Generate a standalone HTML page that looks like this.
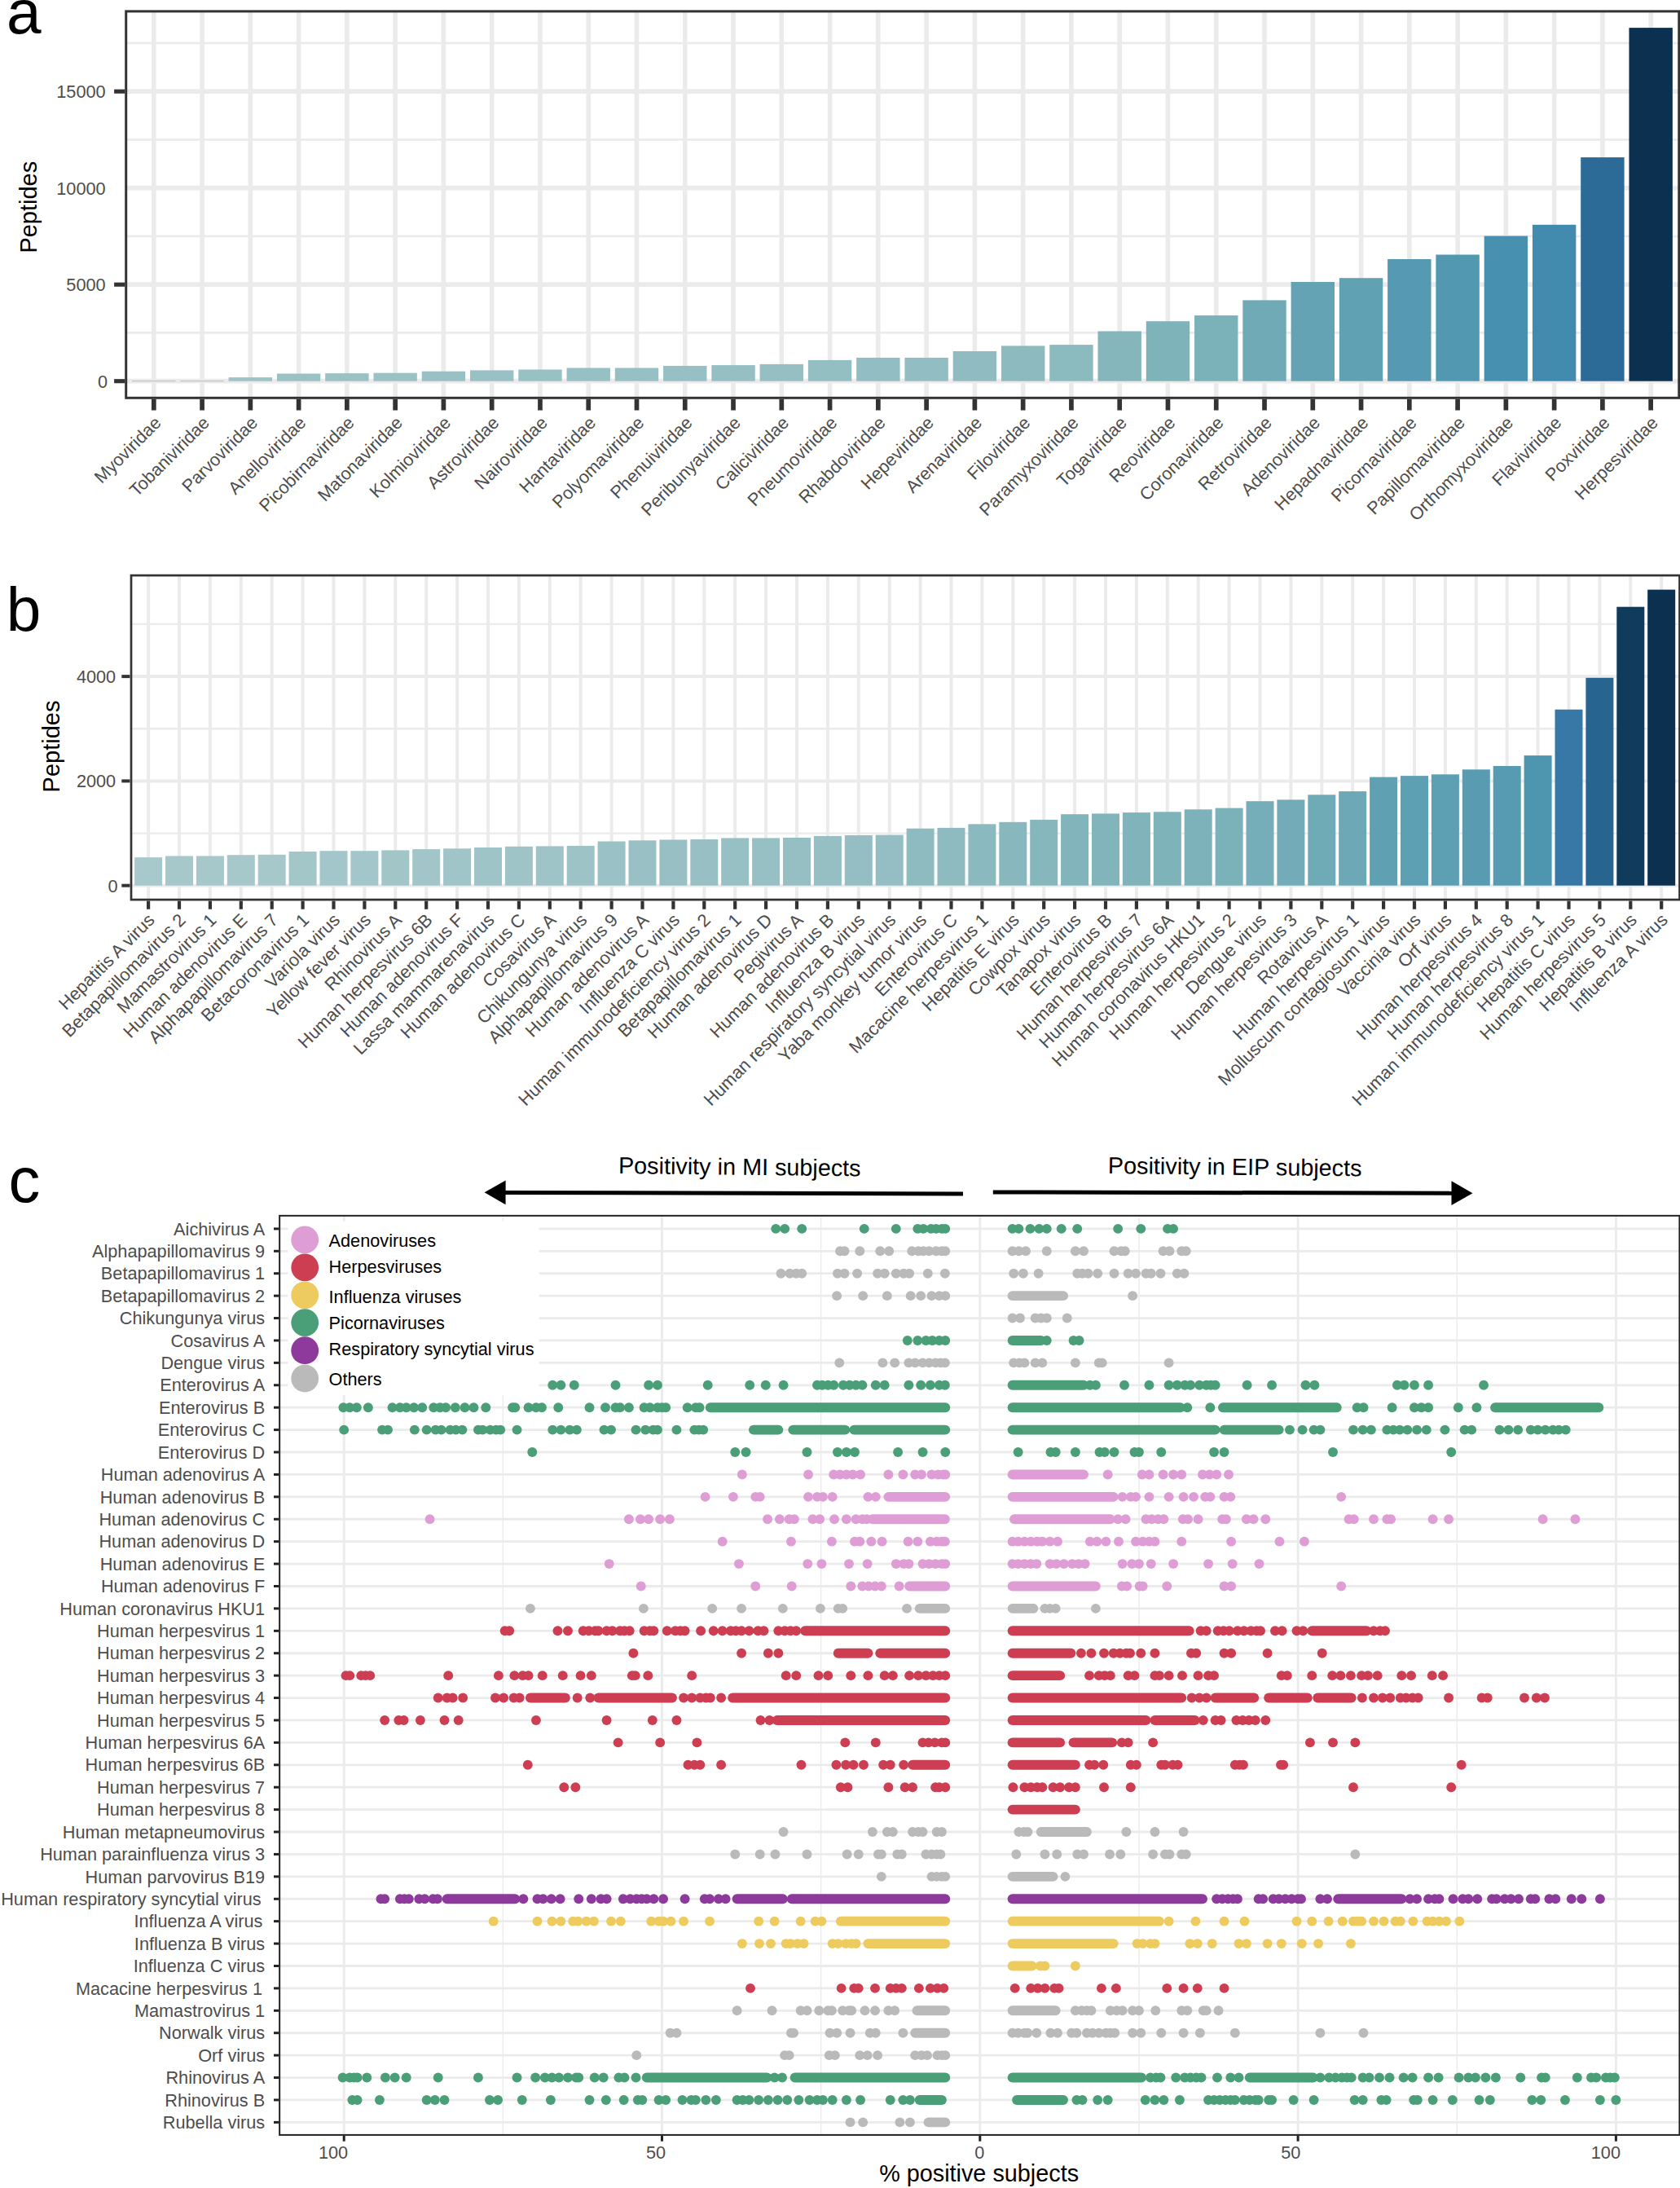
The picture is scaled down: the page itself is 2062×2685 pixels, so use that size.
<!DOCTYPE html>
<html lang="en">
<head>
<meta charset="utf-8">
<title>Figure</title>
<style>
html,body{margin:0;padding:0;background:#fff;}
body{width:2062px;height:2685px;overflow:hidden;}
svg{display:block;font-family:'Liberation Sans', sans-serif;}
</style>
</head>
<body>
<svg width="2062" height="2685" viewBox="0 0 2062 2685">
<rect x="0" y="0" width="2062" height="2685" fill="#ffffff"/>
<g>
<rect x="154.7" y="13.9" width="1906.1" height="474.4" fill="#fff"/>
<line x1="154.7" x2="2060.8" y1="408.45" y2="408.45" stroke="#ebebeb" stroke-width="2.7"/>
<line x1="154.7" x2="2060.8" y1="289.95" y2="289.95" stroke="#ebebeb" stroke-width="2.7"/>
<line x1="154.7" x2="2060.8" y1="171.45" y2="171.45" stroke="#ebebeb" stroke-width="2.7"/>
<line x1="154.7" x2="2060.8" y1="52.95" y2="52.95" stroke="#ebebeb" stroke-width="2.7"/>
<line x1="154.7" x2="2060.8" y1="467.7" y2="467.7" stroke="#ebebeb" stroke-width="5.8"/>
<line x1="154.7" x2="2060.8" y1="349.2" y2="349.2" stroke="#ebebeb" stroke-width="5.8"/>
<line x1="154.7" x2="2060.8" y1="230.7" y2="230.7" stroke="#ebebeb" stroke-width="5.8"/>
<line x1="154.7" x2="2060.8" y1="112.2" y2="112.2" stroke="#ebebeb" stroke-width="5.8"/>
<line x1="188.8" x2="188.8" y1="13.9" y2="488.3" stroke="#ebebeb" stroke-width="5.6"/>
<line x1="248.07" x2="248.07" y1="13.9" y2="488.3" stroke="#ebebeb" stroke-width="5.6"/>
<line x1="307.34" x2="307.34" y1="13.9" y2="488.3" stroke="#ebebeb" stroke-width="5.6"/>
<line x1="366.61" x2="366.61" y1="13.9" y2="488.3" stroke="#ebebeb" stroke-width="5.6"/>
<line x1="425.88" x2="425.88" y1="13.9" y2="488.3" stroke="#ebebeb" stroke-width="5.6"/>
<line x1="485.15" x2="485.15" y1="13.9" y2="488.3" stroke="#ebebeb" stroke-width="5.6"/>
<line x1="544.42" x2="544.42" y1="13.9" y2="488.3" stroke="#ebebeb" stroke-width="5.6"/>
<line x1="603.69" x2="603.69" y1="13.9" y2="488.3" stroke="#ebebeb" stroke-width="5.6"/>
<line x1="662.96" x2="662.96" y1="13.9" y2="488.3" stroke="#ebebeb" stroke-width="5.6"/>
<line x1="722.23" x2="722.23" y1="13.9" y2="488.3" stroke="#ebebeb" stroke-width="5.6"/>
<line x1="781.5" x2="781.5" y1="13.9" y2="488.3" stroke="#ebebeb" stroke-width="5.6"/>
<line x1="840.77" x2="840.77" y1="13.9" y2="488.3" stroke="#ebebeb" stroke-width="5.6"/>
<line x1="900.04" x2="900.04" y1="13.9" y2="488.3" stroke="#ebebeb" stroke-width="5.6"/>
<line x1="959.31" x2="959.31" y1="13.9" y2="488.3" stroke="#ebebeb" stroke-width="5.6"/>
<line x1="1018.58" x2="1018.58" y1="13.9" y2="488.3" stroke="#ebebeb" stroke-width="5.6"/>
<line x1="1077.85" x2="1077.85" y1="13.9" y2="488.3" stroke="#ebebeb" stroke-width="5.6"/>
<line x1="1137.12" x2="1137.12" y1="13.9" y2="488.3" stroke="#ebebeb" stroke-width="5.6"/>
<line x1="1196.39" x2="1196.39" y1="13.9" y2="488.3" stroke="#ebebeb" stroke-width="5.6"/>
<line x1="1255.66" x2="1255.66" y1="13.9" y2="488.3" stroke="#ebebeb" stroke-width="5.6"/>
<line x1="1314.93" x2="1314.93" y1="13.9" y2="488.3" stroke="#ebebeb" stroke-width="5.6"/>
<line x1="1374.2" x2="1374.2" y1="13.9" y2="488.3" stroke="#ebebeb" stroke-width="5.6"/>
<line x1="1433.47" x2="1433.47" y1="13.9" y2="488.3" stroke="#ebebeb" stroke-width="5.6"/>
<line x1="1492.74" x2="1492.74" y1="13.9" y2="488.3" stroke="#ebebeb" stroke-width="5.6"/>
<line x1="1552.01" x2="1552.01" y1="13.9" y2="488.3" stroke="#ebebeb" stroke-width="5.6"/>
<line x1="1611.28" x2="1611.28" y1="13.9" y2="488.3" stroke="#ebebeb" stroke-width="5.6"/>
<line x1="1670.55" x2="1670.55" y1="13.9" y2="488.3" stroke="#ebebeb" stroke-width="5.6"/>
<line x1="1729.82" x2="1729.82" y1="13.9" y2="488.3" stroke="#ebebeb" stroke-width="5.6"/>
<line x1="1789.09" x2="1789.09" y1="13.9" y2="488.3" stroke="#ebebeb" stroke-width="5.6"/>
<line x1="1848.36" x2="1848.36" y1="13.9" y2="488.3" stroke="#ebebeb" stroke-width="5.6"/>
<line x1="1907.63" x2="1907.63" y1="13.9" y2="488.3" stroke="#ebebeb" stroke-width="5.6"/>
<line x1="1966.9" x2="1966.9" y1="13.9" y2="488.3" stroke="#ebebeb" stroke-width="5.6"/>
<line x1="2026.17" x2="2026.17" y1="13.9" y2="488.3" stroke="#ebebeb" stroke-width="5.6"/>
<rect x="162.1" y="467.2" width="53.4" height="0.9" fill="#a9bcbf"/>
<rect x="221.37" y="467.2" width="53.4" height="0.9" fill="#a9bcbf"/>
<rect x="280.64" y="463.1" width="53.4" height="4.6" fill="#9cc3c6"/>
<rect x="339.91" y="458.5" width="53.4" height="9.2" fill="#9ac2c5"/>
<rect x="399.18" y="458.1" width="53.4" height="9.6" fill="#9ac2c5"/>
<rect x="458.45" y="457.7" width="53.4" height="10" fill="#9ac2c5"/>
<rect x="517.72" y="455.7" width="53.4" height="12" fill="#99c1c5"/>
<rect x="576.99" y="454.4" width="53.4" height="13.3" fill="#99c1c5"/>
<rect x="636.26" y="453.5" width="53.4" height="14.2" fill="#98c1c4"/>
<rect x="695.53" y="451.5" width="53.4" height="16.2" fill="#97c0c4"/>
<rect x="754.8" y="451.5" width="53.4" height="16.2" fill="#97c0c4"/>
<rect x="814.07" y="448.95" width="53.4" height="18.75" fill="#96c0c4"/>
<rect x="873.34" y="448.1" width="53.4" height="19.6" fill="#96bfc4"/>
<rect x="932.61" y="446.9" width="53.4" height="20.8" fill="#96bfc3"/>
<rect x="991.88" y="441.9" width="53.4" height="25.8" fill="#93bec2"/>
<rect x="1051.15" y="438.95" width="53.4" height="28.75" fill="#92bdc2"/>
<rect x="1110.42" y="438.95" width="53.4" height="28.75" fill="#92bdc2"/>
<rect x="1169.69" y="431" width="53.4" height="36.7" fill="#8fbbc1"/>
<rect x="1228.96" y="424.4" width="53.4" height="43.3" fill="#8cbabf"/>
<rect x="1288.23" y="423.1" width="53.4" height="44.6" fill="#8bbabf"/>
<rect x="1347.5" y="406.45" width="53.4" height="61.25" fill="#84b6bc"/>
<rect x="1406.77" y="394.2" width="53.4" height="73.5" fill="#7fb3ba"/>
<rect x="1466.04" y="387.1" width="53.4" height="80.6" fill="#7bb1b9"/>
<rect x="1525.31" y="368.4" width="53.4" height="99.3" fill="#70aab7"/>
<rect x="1584.58" y="346" width="53.4" height="121.7" fill="#63a3b4"/>
<rect x="1643.85" y="341.2" width="53.4" height="126.5" fill="#61a1b4"/>
<rect x="1703.12" y="318" width="53.4" height="149.7" fill="#559ab2"/>
<rect x="1762.39" y="312.5" width="53.4" height="155.2" fill="#5298b1"/>
<rect x="1821.66" y="289.6" width="53.4" height="178.1" fill="#4890af"/>
<rect x="1880.93" y="275.8" width="53.4" height="191.9" fill="#428bae"/>
<rect x="1940.2" y="193.1" width="53.4" height="274.6" fill="#2c6a97"/>
<rect x="1999.47" y="34.1" width="53.4" height="433.6" fill="#0b3050"/>
<rect x="154.7" y="13.9" width="1906.1" height="474.4" fill="none" stroke="#333333" stroke-width="3"/>
<line x1="140.1" x2="153.2" y1="467.7" y2="467.7" stroke="#333333" stroke-width="5.1"/>
<text x="132" y="475.7" text-anchor="end" font-size="21.7" fill="#4d4d4d">0</text>
<line x1="140.1" x2="153.2" y1="349.2" y2="349.2" stroke="#333333" stroke-width="5.1"/>
<text x="129.6" y="357.2" text-anchor="end" font-size="21.7" fill="#4d4d4d">5000</text>
<text x="129.6" y="238.7" text-anchor="end" font-size="21.7" fill="#4d4d4d">10000</text>
<line x1="140.1" x2="153.2" y1="112.2" y2="112.2" stroke="#333333" stroke-width="5.1"/>
<text x="129.6" y="120.2" text-anchor="end" font-size="21.7" fill="#4d4d4d">15000</text>
<line x1="188.8" x2="188.8" y1="489.8" y2="503.5" stroke="#333333" stroke-width="5.7"/>
<text transform="translate(199,520.2) rotate(-45)" text-anchor="end" font-size="21.7" fill="#4d4d4d">Myoviridae</text>
<line x1="248.07" x2="248.07" y1="489.8" y2="503.5" stroke="#333333" stroke-width="5.7"/>
<text transform="translate(258.27,520.2) rotate(-45)" text-anchor="end" font-size="21.7" fill="#4d4d4d">Tobaniviridae</text>
<line x1="307.34" x2="307.34" y1="489.8" y2="503.5" stroke="#333333" stroke-width="5.7"/>
<text transform="translate(317.54,520.2) rotate(-45)" text-anchor="end" font-size="21.7" fill="#4d4d4d">Parvoviridae</text>
<line x1="366.61" x2="366.61" y1="489.8" y2="503.5" stroke="#333333" stroke-width="5.7"/>
<text transform="translate(376.81,520.2) rotate(-45)" text-anchor="end" font-size="21.7" fill="#4d4d4d">Anelloviridae</text>
<line x1="425.88" x2="425.88" y1="489.8" y2="503.5" stroke="#333333" stroke-width="5.7"/>
<text transform="translate(436.08,520.2) rotate(-45)" text-anchor="end" font-size="21.7" fill="#4d4d4d">Picobirnaviridae</text>
<line x1="485.15" x2="485.15" y1="489.8" y2="503.5" stroke="#333333" stroke-width="5.7"/>
<text transform="translate(495.35,520.2) rotate(-45)" text-anchor="end" font-size="21.7" fill="#4d4d4d">Matonaviridae</text>
<line x1="544.42" x2="544.42" y1="489.8" y2="503.5" stroke="#333333" stroke-width="5.7"/>
<text transform="translate(554.62,520.2) rotate(-45)" text-anchor="end" font-size="21.7" fill="#4d4d4d">Kolmioviridae</text>
<line x1="603.69" x2="603.69" y1="489.8" y2="503.5" stroke="#333333" stroke-width="5.7"/>
<text transform="translate(613.89,520.2) rotate(-45)" text-anchor="end" font-size="21.7" fill="#4d4d4d">Astroviridae</text>
<line x1="662.96" x2="662.96" y1="489.8" y2="503.5" stroke="#333333" stroke-width="5.7"/>
<text transform="translate(673.16,520.2) rotate(-45)" text-anchor="end" font-size="21.7" fill="#4d4d4d">Nairoviridae</text>
<line x1="722.23" x2="722.23" y1="489.8" y2="503.5" stroke="#333333" stroke-width="5.7"/>
<text transform="translate(732.43,520.2) rotate(-45)" text-anchor="end" font-size="21.7" fill="#4d4d4d">Hantaviridae</text>
<line x1="781.5" x2="781.5" y1="489.8" y2="503.5" stroke="#333333" stroke-width="5.7"/>
<text transform="translate(791.7,520.2) rotate(-45)" text-anchor="end" font-size="21.7" fill="#4d4d4d">Polyomaviridae</text>
<line x1="840.77" x2="840.77" y1="489.8" y2="503.5" stroke="#333333" stroke-width="5.7"/>
<text transform="translate(850.97,520.2) rotate(-45)" text-anchor="end" font-size="21.7" fill="#4d4d4d">Phenuiviridae</text>
<line x1="900.04" x2="900.04" y1="489.8" y2="503.5" stroke="#333333" stroke-width="5.7"/>
<text transform="translate(910.24,520.2) rotate(-45)" text-anchor="end" font-size="21.7" fill="#4d4d4d">Peribunyaviridae</text>
<line x1="959.31" x2="959.31" y1="489.8" y2="503.5" stroke="#333333" stroke-width="5.7"/>
<text transform="translate(969.51,520.2) rotate(-45)" text-anchor="end" font-size="21.7" fill="#4d4d4d">Caliciviridae</text>
<line x1="1018.58" x2="1018.58" y1="489.8" y2="503.5" stroke="#333333" stroke-width="5.7"/>
<text transform="translate(1028.78,520.2) rotate(-45)" text-anchor="end" font-size="21.7" fill="#4d4d4d">Pneumoviridae</text>
<line x1="1077.85" x2="1077.85" y1="489.8" y2="503.5" stroke="#333333" stroke-width="5.7"/>
<text transform="translate(1088.05,520.2) rotate(-45)" text-anchor="end" font-size="21.7" fill="#4d4d4d">Rhabdoviridae</text>
<line x1="1137.12" x2="1137.12" y1="489.8" y2="503.5" stroke="#333333" stroke-width="5.7"/>
<text transform="translate(1147.32,520.2) rotate(-45)" text-anchor="end" font-size="21.7" fill="#4d4d4d">Hepeviridae</text>
<line x1="1196.39" x2="1196.39" y1="489.8" y2="503.5" stroke="#333333" stroke-width="5.7"/>
<text transform="translate(1206.59,520.2) rotate(-45)" text-anchor="end" font-size="21.7" fill="#4d4d4d">Arenaviridae</text>
<line x1="1255.66" x2="1255.66" y1="489.8" y2="503.5" stroke="#333333" stroke-width="5.7"/>
<text transform="translate(1265.86,520.2) rotate(-45)" text-anchor="end" font-size="21.7" fill="#4d4d4d">Filoviridae</text>
<line x1="1314.93" x2="1314.93" y1="489.8" y2="503.5" stroke="#333333" stroke-width="5.7"/>
<text transform="translate(1325.13,520.2) rotate(-45)" text-anchor="end" font-size="21.7" fill="#4d4d4d">Paramyxoviridae</text>
<line x1="1374.2" x2="1374.2" y1="489.8" y2="503.5" stroke="#333333" stroke-width="5.7"/>
<text transform="translate(1384.4,520.2) rotate(-45)" text-anchor="end" font-size="21.7" fill="#4d4d4d">Togaviridae</text>
<line x1="1433.47" x2="1433.47" y1="489.8" y2="503.5" stroke="#333333" stroke-width="5.7"/>
<text transform="translate(1443.67,520.2) rotate(-45)" text-anchor="end" font-size="21.7" fill="#4d4d4d">Reoviridae</text>
<line x1="1492.74" x2="1492.74" y1="489.8" y2="503.5" stroke="#333333" stroke-width="5.7"/>
<text transform="translate(1502.94,520.2) rotate(-45)" text-anchor="end" font-size="21.7" fill="#4d4d4d">Coronaviridae</text>
<line x1="1552.01" x2="1552.01" y1="489.8" y2="503.5" stroke="#333333" stroke-width="5.7"/>
<text transform="translate(1562.21,520.2) rotate(-45)" text-anchor="end" font-size="21.7" fill="#4d4d4d">Retroviridae</text>
<line x1="1611.28" x2="1611.28" y1="489.8" y2="503.5" stroke="#333333" stroke-width="5.7"/>
<text transform="translate(1621.48,520.2) rotate(-45)" text-anchor="end" font-size="21.7" fill="#4d4d4d">Adenoviridae</text>
<line x1="1670.55" x2="1670.55" y1="489.8" y2="503.5" stroke="#333333" stroke-width="5.7"/>
<text transform="translate(1680.75,520.2) rotate(-45)" text-anchor="end" font-size="21.7" fill="#4d4d4d">Hepadnaviridae</text>
<line x1="1729.82" x2="1729.82" y1="489.8" y2="503.5" stroke="#333333" stroke-width="5.7"/>
<text transform="translate(1740.02,520.2) rotate(-45)" text-anchor="end" font-size="21.7" fill="#4d4d4d">Picornaviridae</text>
<line x1="1789.09" x2="1789.09" y1="489.8" y2="503.5" stroke="#333333" stroke-width="5.7"/>
<text transform="translate(1799.29,520.2) rotate(-45)" text-anchor="end" font-size="21.7" fill="#4d4d4d">Papillomaviridae</text>
<line x1="1848.36" x2="1848.36" y1="489.8" y2="503.5" stroke="#333333" stroke-width="5.7"/>
<text transform="translate(1858.56,520.2) rotate(-45)" text-anchor="end" font-size="21.7" fill="#4d4d4d">Orthomyxoviridae</text>
<line x1="1907.63" x2="1907.63" y1="489.8" y2="503.5" stroke="#333333" stroke-width="5.7"/>
<text transform="translate(1917.83,520.2) rotate(-45)" text-anchor="end" font-size="21.7" fill="#4d4d4d">Flaviviridae</text>
<line x1="1966.9" x2="1966.9" y1="489.8" y2="503.5" stroke="#333333" stroke-width="5.7"/>
<text transform="translate(1977.1,520.2) rotate(-45)" text-anchor="end" font-size="21.7" fill="#4d4d4d">Poxviridae</text>
<line x1="2026.17" x2="2026.17" y1="489.8" y2="503.5" stroke="#333333" stroke-width="5.7"/>
<text transform="translate(2036.37,520.2) rotate(-45)" text-anchor="end" font-size="21.7" fill="#4d4d4d">Herpesviridae</text>
</g>
<g>
<rect x="161" y="706.1" width="1900.5" height="397.95" fill="#fff"/>
<line x1="161" x2="2061.5" y1="1022.55" y2="1022.55" stroke="#ebebeb" stroke-width="2.3"/>
<line x1="161" x2="2061.5" y1="894.25" y2="894.25" stroke="#ebebeb" stroke-width="2.3"/>
<line x1="161" x2="2061.5" y1="765.95" y2="765.95" stroke="#ebebeb" stroke-width="2.3"/>
<line x1="161" x2="2061.5" y1="1086.7" y2="1086.7" stroke="#ebebeb" stroke-width="4.0"/>
<line x1="161" x2="2061.5" y1="958.4" y2="958.4" stroke="#ebebeb" stroke-width="4.0"/>
<line x1="161" x2="2061.5" y1="830.1" y2="830.1" stroke="#ebebeb" stroke-width="4.0"/>
<line x1="182.1" x2="182.1" y1="706.1" y2="1104.05" stroke="#ebebeb" stroke-width="4.0"/>
<line x1="220" x2="220" y1="706.1" y2="1104.05" stroke="#ebebeb" stroke-width="4.0"/>
<line x1="257.9" x2="257.9" y1="706.1" y2="1104.05" stroke="#ebebeb" stroke-width="4.0"/>
<line x1="295.8" x2="295.8" y1="706.1" y2="1104.05" stroke="#ebebeb" stroke-width="4.0"/>
<line x1="333.7" x2="333.7" y1="706.1" y2="1104.05" stroke="#ebebeb" stroke-width="4.0"/>
<line x1="371.6" x2="371.6" y1="706.1" y2="1104.05" stroke="#ebebeb" stroke-width="4.0"/>
<line x1="409.5" x2="409.5" y1="706.1" y2="1104.05" stroke="#ebebeb" stroke-width="4.0"/>
<line x1="447.4" x2="447.4" y1="706.1" y2="1104.05" stroke="#ebebeb" stroke-width="4.0"/>
<line x1="485.3" x2="485.3" y1="706.1" y2="1104.05" stroke="#ebebeb" stroke-width="4.0"/>
<line x1="523.2" x2="523.2" y1="706.1" y2="1104.05" stroke="#ebebeb" stroke-width="4.0"/>
<line x1="561.1" x2="561.1" y1="706.1" y2="1104.05" stroke="#ebebeb" stroke-width="4.0"/>
<line x1="599" x2="599" y1="706.1" y2="1104.05" stroke="#ebebeb" stroke-width="4.0"/>
<line x1="636.9" x2="636.9" y1="706.1" y2="1104.05" stroke="#ebebeb" stroke-width="4.0"/>
<line x1="674.8" x2="674.8" y1="706.1" y2="1104.05" stroke="#ebebeb" stroke-width="4.0"/>
<line x1="712.7" x2="712.7" y1="706.1" y2="1104.05" stroke="#ebebeb" stroke-width="4.0"/>
<line x1="750.6" x2="750.6" y1="706.1" y2="1104.05" stroke="#ebebeb" stroke-width="4.0"/>
<line x1="788.5" x2="788.5" y1="706.1" y2="1104.05" stroke="#ebebeb" stroke-width="4.0"/>
<line x1="826.4" x2="826.4" y1="706.1" y2="1104.05" stroke="#ebebeb" stroke-width="4.0"/>
<line x1="864.3" x2="864.3" y1="706.1" y2="1104.05" stroke="#ebebeb" stroke-width="4.0"/>
<line x1="902.2" x2="902.2" y1="706.1" y2="1104.05" stroke="#ebebeb" stroke-width="4.0"/>
<line x1="940.1" x2="940.1" y1="706.1" y2="1104.05" stroke="#ebebeb" stroke-width="4.0"/>
<line x1="978" x2="978" y1="706.1" y2="1104.05" stroke="#ebebeb" stroke-width="4.0"/>
<line x1="1015.9" x2="1015.9" y1="706.1" y2="1104.05" stroke="#ebebeb" stroke-width="4.0"/>
<line x1="1053.8" x2="1053.8" y1="706.1" y2="1104.05" stroke="#ebebeb" stroke-width="4.0"/>
<line x1="1091.7" x2="1091.7" y1="706.1" y2="1104.05" stroke="#ebebeb" stroke-width="4.0"/>
<line x1="1129.6" x2="1129.6" y1="706.1" y2="1104.05" stroke="#ebebeb" stroke-width="4.0"/>
<line x1="1167.5" x2="1167.5" y1="706.1" y2="1104.05" stroke="#ebebeb" stroke-width="4.0"/>
<line x1="1205.4" x2="1205.4" y1="706.1" y2="1104.05" stroke="#ebebeb" stroke-width="4.0"/>
<line x1="1243.3" x2="1243.3" y1="706.1" y2="1104.05" stroke="#ebebeb" stroke-width="4.0"/>
<line x1="1281.2" x2="1281.2" y1="706.1" y2="1104.05" stroke="#ebebeb" stroke-width="4.0"/>
<line x1="1319.1" x2="1319.1" y1="706.1" y2="1104.05" stroke="#ebebeb" stroke-width="4.0"/>
<line x1="1357" x2="1357" y1="706.1" y2="1104.05" stroke="#ebebeb" stroke-width="4.0"/>
<line x1="1394.9" x2="1394.9" y1="706.1" y2="1104.05" stroke="#ebebeb" stroke-width="4.0"/>
<line x1="1432.8" x2="1432.8" y1="706.1" y2="1104.05" stroke="#ebebeb" stroke-width="4.0"/>
<line x1="1470.7" x2="1470.7" y1="706.1" y2="1104.05" stroke="#ebebeb" stroke-width="4.0"/>
<line x1="1508.6" x2="1508.6" y1="706.1" y2="1104.05" stroke="#ebebeb" stroke-width="4.0"/>
<line x1="1546.5" x2="1546.5" y1="706.1" y2="1104.05" stroke="#ebebeb" stroke-width="4.0"/>
<line x1="1584.4" x2="1584.4" y1="706.1" y2="1104.05" stroke="#ebebeb" stroke-width="4.0"/>
<line x1="1622.3" x2="1622.3" y1="706.1" y2="1104.05" stroke="#ebebeb" stroke-width="4.0"/>
<line x1="1660.2" x2="1660.2" y1="706.1" y2="1104.05" stroke="#ebebeb" stroke-width="4.0"/>
<line x1="1698.1" x2="1698.1" y1="706.1" y2="1104.05" stroke="#ebebeb" stroke-width="4.0"/>
<line x1="1736" x2="1736" y1="706.1" y2="1104.05" stroke="#ebebeb" stroke-width="4.0"/>
<line x1="1773.9" x2="1773.9" y1="706.1" y2="1104.05" stroke="#ebebeb" stroke-width="4.0"/>
<line x1="1811.8" x2="1811.8" y1="706.1" y2="1104.05" stroke="#ebebeb" stroke-width="4.0"/>
<line x1="1849.7" x2="1849.7" y1="706.1" y2="1104.05" stroke="#ebebeb" stroke-width="4.0"/>
<line x1="1887.6" x2="1887.6" y1="706.1" y2="1104.05" stroke="#ebebeb" stroke-width="4.0"/>
<line x1="1925.5" x2="1925.5" y1="706.1" y2="1104.05" stroke="#ebebeb" stroke-width="4.0"/>
<line x1="1963.4" x2="1963.4" y1="706.1" y2="1104.05" stroke="#ebebeb" stroke-width="4.0"/>
<line x1="2001.3" x2="2001.3" y1="706.1" y2="1104.05" stroke="#ebebeb" stroke-width="4.0"/>
<line x1="2039.2" x2="2039.2" y1="706.1" y2="1104.05" stroke="#ebebeb" stroke-width="4.0"/>
<rect x="165.1" y="1052.1" width="34" height="34.6" fill="#a8c9cb"/>
<rect x="203" y="1050.45" width="34" height="36.25" fill="#a7c8ca"/>
<rect x="240.9" y="1050.45" width="34" height="36.25" fill="#a7c8ca"/>
<rect x="278.8" y="1049.2" width="34" height="37.5" fill="#a6c8ca"/>
<rect x="316.7" y="1048.8" width="34" height="37.9" fill="#a6c8ca"/>
<rect x="354.6" y="1045" width="34" height="41.7" fill="#a3c6c9"/>
<rect x="392.5" y="1044.2" width="34" height="42.5" fill="#a2c6c9"/>
<rect x="430.4" y="1044.2" width="34" height="42.5" fill="#a2c6c9"/>
<rect x="468.3" y="1043.4" width="34" height="43.3" fill="#a2c6c8"/>
<rect x="506.2" y="1042.1" width="34" height="44.6" fill="#a1c5c8"/>
<rect x="544.1" y="1041.3" width="34" height="45.4" fill="#a0c5c8"/>
<rect x="582" y="1040" width="34" height="46.7" fill="#9fc4c7"/>
<rect x="619.9" y="1038.8" width="34" height="47.9" fill="#9ec4c7"/>
<rect x="657.8" y="1038.4" width="34" height="48.3" fill="#9ec4c7"/>
<rect x="695.7" y="1037.95" width="34" height="48.75" fill="#9ec3c7"/>
<rect x="733.6" y="1032.5" width="34" height="54.2" fill="#9ac1c5"/>
<rect x="771.5" y="1031.3" width="34" height="55.4" fill="#99c1c5"/>
<rect x="809.4" y="1030.45" width="34" height="56.25" fill="#98c0c4"/>
<rect x="847.3" y="1030" width="34" height="56.7" fill="#98c0c4"/>
<rect x="885.2" y="1028.4" width="34" height="58.3" fill="#97c0c4"/>
<rect x="923.1" y="1028.4" width="34" height="58.3" fill="#97c0c4"/>
<rect x="961" y="1027.95" width="34" height="58.75" fill="#96bfc4"/>
<rect x="998.9" y="1025.9" width="34" height="60.8" fill="#95bfc3"/>
<rect x="1036.8" y="1025" width="34" height="61.7" fill="#94bec3"/>
<rect x="1074.7" y="1024.6" width="34" height="62.1" fill="#94bec3"/>
<rect x="1112.6" y="1016.7" width="34" height="70" fill="#8ebbc0"/>
<rect x="1150.5" y="1015.9" width="34" height="70.8" fill="#8dbbc0"/>
<rect x="1188.4" y="1011.3" width="34" height="75.4" fill="#8ab9bf"/>
<rect x="1226.3" y="1008.8" width="34" height="77.9" fill="#88b8be"/>
<rect x="1264.2" y="1005.9" width="34" height="80.8" fill="#86b7bd"/>
<rect x="1302.1" y="999.2" width="34" height="87.5" fill="#81b4bb"/>
<rect x="1340" y="998.4" width="34" height="88.3" fill="#81b4bb"/>
<rect x="1377.9" y="997.1" width="34" height="89.6" fill="#80b3ba"/>
<rect x="1415.8" y="996.3" width="34" height="90.4" fill="#7fb3ba"/>
<rect x="1453.7" y="993.3" width="34" height="93.4" fill="#7db2ba"/>
<rect x="1491.6" y="991.6" width="34" height="95.1" fill="#7bb1b9"/>
<rect x="1529.5" y="983.2" width="34" height="103.5" fill="#75adb8"/>
<rect x="1567.4" y="981.4" width="34" height="105.3" fill="#73acb8"/>
<rect x="1605.3" y="975.3" width="34" height="111.4" fill="#6faab7"/>
<rect x="1643.2" y="971.1" width="34" height="115.6" fill="#6ca8b6"/>
<rect x="1681.1" y="953.6" width="34" height="133.1" fill="#5fa0b3"/>
<rect x="1719" y="952.1" width="34" height="134.6" fill="#5ea0b3"/>
<rect x="1756.9" y="950.3" width="34" height="136.4" fill="#5d9fb3"/>
<rect x="1794.8" y="944.3" width="34" height="142.4" fill="#599cb2"/>
<rect x="1832.7" y="940" width="34" height="146.7" fill="#569bb2"/>
<rect x="1870.6" y="927.1" width="34" height="159.6" fill="#4e95b0"/>
<rect x="1908.5" y="870.7" width="34" height="216" fill="#3878a6"/>
<rect x="1946.4" y="831.8" width="34" height="254.9" fill="#286490"/>
<rect x="1984.3" y="744.7" width="34" height="342" fill="#0f3b5d"/>
<rect x="2022.2" y="723.6" width="34" height="363.1" fill="#0b3050"/>
<rect x="161" y="706.1" width="1900.5" height="397.95" fill="none" stroke="#333333" stroke-width="2.7"/>
<line x1="149.3" x2="159.5" y1="1086.7" y2="1086.7" stroke="#333333" stroke-width="4.0"/>
<text x="144.6" y="1094.7" text-anchor="end" font-size="21.7" fill="#4d4d4d">0</text>
<line x1="149.3" x2="159.5" y1="958.4" y2="958.4" stroke="#333333" stroke-width="4.0"/>
<text x="142.2" y="966.4" text-anchor="end" font-size="21.7" fill="#4d4d4d">2000</text>
<line x1="149.3" x2="159.5" y1="830.1" y2="830.1" stroke="#333333" stroke-width="4.0"/>
<text x="142.2" y="838.1" text-anchor="end" font-size="21.7" fill="#4d4d4d">4000</text>
<line x1="182.1" x2="182.1" y1="1105.55" y2="1115.75" stroke="#333333" stroke-width="4.2"/>
<text transform="translate(191.1,1130.35) rotate(-45)" text-anchor="end" font-size="21.9" fill="#4d4d4d">Hepatitis A virus</text>
<line x1="220" x2="220" y1="1105.55" y2="1115.75" stroke="#333333" stroke-width="4.2"/>
<text transform="translate(229,1130.35) rotate(-45)" text-anchor="end" font-size="21.9" fill="#4d4d4d">Betapapillomavirus 2</text>
<line x1="257.9" x2="257.9" y1="1105.55" y2="1115.75" stroke="#333333" stroke-width="4.2"/>
<text transform="translate(266.9,1130.35) rotate(-45)" text-anchor="end" font-size="21.9" fill="#4d4d4d">Mamastrovirus 1</text>
<line x1="295.8" x2="295.8" y1="1105.55" y2="1115.75" stroke="#333333" stroke-width="4.2"/>
<text transform="translate(304.8,1130.35) rotate(-45)" text-anchor="end" font-size="21.9" fill="#4d4d4d">Human adenovirus E</text>
<line x1="333.7" x2="333.7" y1="1105.55" y2="1115.75" stroke="#333333" stroke-width="4.2"/>
<text transform="translate(342.7,1130.35) rotate(-45)" text-anchor="end" font-size="21.9" fill="#4d4d4d">Alphapapillomavirus 7</text>
<line x1="371.6" x2="371.6" y1="1105.55" y2="1115.75" stroke="#333333" stroke-width="4.2"/>
<text transform="translate(380.6,1130.35) rotate(-45)" text-anchor="end" font-size="21.9" fill="#4d4d4d">Betacoronavirus 1</text>
<line x1="409.5" x2="409.5" y1="1105.55" y2="1115.75" stroke="#333333" stroke-width="4.2"/>
<text transform="translate(418.5,1130.35) rotate(-45)" text-anchor="end" font-size="21.9" fill="#4d4d4d">Variola virus</text>
<line x1="447.4" x2="447.4" y1="1105.55" y2="1115.75" stroke="#333333" stroke-width="4.2"/>
<text transform="translate(456.4,1130.35) rotate(-45)" text-anchor="end" font-size="21.9" fill="#4d4d4d">Yellow fever virus</text>
<line x1="485.3" x2="485.3" y1="1105.55" y2="1115.75" stroke="#333333" stroke-width="4.2"/>
<text transform="translate(494.3,1130.35) rotate(-45)" text-anchor="end" font-size="21.9" fill="#4d4d4d">Rhinovirus A</text>
<line x1="523.2" x2="523.2" y1="1105.55" y2="1115.75" stroke="#333333" stroke-width="4.2"/>
<text transform="translate(532.2,1130.35) rotate(-45)" text-anchor="end" font-size="21.9" fill="#4d4d4d">Human herpesvirus 6B</text>
<line x1="561.1" x2="561.1" y1="1105.55" y2="1115.75" stroke="#333333" stroke-width="4.2"/>
<text transform="translate(570.1,1130.35) rotate(-45)" text-anchor="end" font-size="21.9" fill="#4d4d4d">Human adenovirus F</text>
<line x1="599" x2="599" y1="1105.55" y2="1115.75" stroke="#333333" stroke-width="4.2"/>
<text transform="translate(608,1130.35) rotate(-45)" text-anchor="end" font-size="21.9" fill="#4d4d4d">Lassa mammarenavirus</text>
<line x1="636.9" x2="636.9" y1="1105.55" y2="1115.75" stroke="#333333" stroke-width="4.2"/>
<text transform="translate(645.9,1130.35) rotate(-45)" text-anchor="end" font-size="21.9" fill="#4d4d4d">Human adenovirus C</text>
<line x1="674.8" x2="674.8" y1="1105.55" y2="1115.75" stroke="#333333" stroke-width="4.2"/>
<text transform="translate(683.8,1130.35) rotate(-45)" text-anchor="end" font-size="21.9" fill="#4d4d4d">Cosavirus A</text>
<line x1="712.7" x2="712.7" y1="1105.55" y2="1115.75" stroke="#333333" stroke-width="4.2"/>
<text transform="translate(721.7,1130.35) rotate(-45)" text-anchor="end" font-size="21.9" fill="#4d4d4d">Chikungunya virus</text>
<line x1="750.6" x2="750.6" y1="1105.55" y2="1115.75" stroke="#333333" stroke-width="4.2"/>
<text transform="translate(759.6,1130.35) rotate(-45)" text-anchor="end" font-size="21.9" fill="#4d4d4d">Alphapapillomavirus 9</text>
<line x1="788.5" x2="788.5" y1="1105.55" y2="1115.75" stroke="#333333" stroke-width="4.2"/>
<text transform="translate(797.5,1130.35) rotate(-45)" text-anchor="end" font-size="21.9" fill="#4d4d4d">Human adenovirus A</text>
<line x1="826.4" x2="826.4" y1="1105.55" y2="1115.75" stroke="#333333" stroke-width="4.2"/>
<text transform="translate(835.4,1130.35) rotate(-45)" text-anchor="end" font-size="21.9" fill="#4d4d4d">Influenza C virus</text>
<line x1="864.3" x2="864.3" y1="1105.55" y2="1115.75" stroke="#333333" stroke-width="4.2"/>
<text transform="translate(873.3,1130.35) rotate(-45)" text-anchor="end" font-size="21.9" fill="#4d4d4d">Human immunodeficiency virus 2</text>
<line x1="902.2" x2="902.2" y1="1105.55" y2="1115.75" stroke="#333333" stroke-width="4.2"/>
<text transform="translate(911.2,1130.35) rotate(-45)" text-anchor="end" font-size="21.9" fill="#4d4d4d">Betapapillomavirus 1</text>
<line x1="940.1" x2="940.1" y1="1105.55" y2="1115.75" stroke="#333333" stroke-width="4.2"/>
<text transform="translate(949.1,1130.35) rotate(-45)" text-anchor="end" font-size="21.9" fill="#4d4d4d">Human adenovirus D</text>
<line x1="978" x2="978" y1="1105.55" y2="1115.75" stroke="#333333" stroke-width="4.2"/>
<text transform="translate(987,1130.35) rotate(-45)" text-anchor="end" font-size="21.9" fill="#4d4d4d">Pegivirus A</text>
<line x1="1015.9" x2="1015.9" y1="1105.55" y2="1115.75" stroke="#333333" stroke-width="4.2"/>
<text transform="translate(1024.9,1130.35) rotate(-45)" text-anchor="end" font-size="21.9" fill="#4d4d4d">Human adenovirus B</text>
<line x1="1053.8" x2="1053.8" y1="1105.55" y2="1115.75" stroke="#333333" stroke-width="4.2"/>
<text transform="translate(1062.8,1130.35) rotate(-45)" text-anchor="end" font-size="21.9" fill="#4d4d4d">Influenza B virus</text>
<line x1="1091.7" x2="1091.7" y1="1105.55" y2="1115.75" stroke="#333333" stroke-width="4.2"/>
<text transform="translate(1100.7,1130.35) rotate(-45)" text-anchor="end" font-size="21.9" fill="#4d4d4d">Human respiratory syncytial virus</text>
<line x1="1129.6" x2="1129.6" y1="1105.55" y2="1115.75" stroke="#333333" stroke-width="4.2"/>
<text transform="translate(1138.6,1130.35) rotate(-45)" text-anchor="end" font-size="21.9" fill="#4d4d4d">Yaba monkey tumor virus</text>
<line x1="1167.5" x2="1167.5" y1="1105.55" y2="1115.75" stroke="#333333" stroke-width="4.2"/>
<text transform="translate(1176.5,1130.35) rotate(-45)" text-anchor="end" font-size="21.9" fill="#4d4d4d">Enterovirus C</text>
<line x1="1205.4" x2="1205.4" y1="1105.55" y2="1115.75" stroke="#333333" stroke-width="4.2"/>
<text transform="translate(1214.4,1130.35) rotate(-45)" text-anchor="end" font-size="21.9" fill="#4d4d4d">Macacine herpesvirus 1</text>
<line x1="1243.3" x2="1243.3" y1="1105.55" y2="1115.75" stroke="#333333" stroke-width="4.2"/>
<text transform="translate(1252.3,1130.35) rotate(-45)" text-anchor="end" font-size="21.9" fill="#4d4d4d">Hepatitis E virus</text>
<line x1="1281.2" x2="1281.2" y1="1105.55" y2="1115.75" stroke="#333333" stroke-width="4.2"/>
<text transform="translate(1290.2,1130.35) rotate(-45)" text-anchor="end" font-size="21.9" fill="#4d4d4d">Cowpox virus</text>
<line x1="1319.1" x2="1319.1" y1="1105.55" y2="1115.75" stroke="#333333" stroke-width="4.2"/>
<text transform="translate(1328.1,1130.35) rotate(-45)" text-anchor="end" font-size="21.9" fill="#4d4d4d">Tanapox virus</text>
<line x1="1357" x2="1357" y1="1105.55" y2="1115.75" stroke="#333333" stroke-width="4.2"/>
<text transform="translate(1366,1130.35) rotate(-45)" text-anchor="end" font-size="21.9" fill="#4d4d4d">Enterovirus B</text>
<line x1="1394.9" x2="1394.9" y1="1105.55" y2="1115.75" stroke="#333333" stroke-width="4.2"/>
<text transform="translate(1403.9,1130.35) rotate(-45)" text-anchor="end" font-size="21.9" fill="#4d4d4d">Human herpesvirus 7</text>
<line x1="1432.8" x2="1432.8" y1="1105.55" y2="1115.75" stroke="#333333" stroke-width="4.2"/>
<text transform="translate(1441.8,1130.35) rotate(-45)" text-anchor="end" font-size="21.9" fill="#4d4d4d">Human herpesvirus 6A</text>
<line x1="1470.7" x2="1470.7" y1="1105.55" y2="1115.75" stroke="#333333" stroke-width="4.2"/>
<text transform="translate(1479.7,1130.35) rotate(-45)" text-anchor="end" font-size="21.9" fill="#4d4d4d">Human coronavirus HKU1</text>
<line x1="1508.6" x2="1508.6" y1="1105.55" y2="1115.75" stroke="#333333" stroke-width="4.2"/>
<text transform="translate(1517.6,1130.35) rotate(-45)" text-anchor="end" font-size="21.9" fill="#4d4d4d">Human herpesvirus 2</text>
<line x1="1546.5" x2="1546.5" y1="1105.55" y2="1115.75" stroke="#333333" stroke-width="4.2"/>
<text transform="translate(1555.5,1130.35) rotate(-45)" text-anchor="end" font-size="21.9" fill="#4d4d4d">Dengue virus</text>
<line x1="1584.4" x2="1584.4" y1="1105.55" y2="1115.75" stroke="#333333" stroke-width="4.2"/>
<text transform="translate(1593.4,1130.35) rotate(-45)" text-anchor="end" font-size="21.9" fill="#4d4d4d">Human herpesvirus 3</text>
<line x1="1622.3" x2="1622.3" y1="1105.55" y2="1115.75" stroke="#333333" stroke-width="4.2"/>
<text transform="translate(1631.3,1130.35) rotate(-45)" text-anchor="end" font-size="21.9" fill="#4d4d4d">Rotavirus A</text>
<line x1="1660.2" x2="1660.2" y1="1105.55" y2="1115.75" stroke="#333333" stroke-width="4.2"/>
<text transform="translate(1669.2,1130.35) rotate(-45)" text-anchor="end" font-size="21.9" fill="#4d4d4d">Human herpesvirus 1</text>
<line x1="1698.1" x2="1698.1" y1="1105.55" y2="1115.75" stroke="#333333" stroke-width="4.2"/>
<text transform="translate(1707.1,1130.35) rotate(-45)" text-anchor="end" font-size="21.9" fill="#4d4d4d">Molluscum contagiosum virus</text>
<line x1="1736" x2="1736" y1="1105.55" y2="1115.75" stroke="#333333" stroke-width="4.2"/>
<text transform="translate(1745,1130.35) rotate(-45)" text-anchor="end" font-size="21.9" fill="#4d4d4d">Vaccinia virus</text>
<line x1="1773.9" x2="1773.9" y1="1105.55" y2="1115.75" stroke="#333333" stroke-width="4.2"/>
<text transform="translate(1782.9,1130.35) rotate(-45)" text-anchor="end" font-size="21.9" fill="#4d4d4d">Orf virus</text>
<line x1="1811.8" x2="1811.8" y1="1105.55" y2="1115.75" stroke="#333333" stroke-width="4.2"/>
<text transform="translate(1820.8,1130.35) rotate(-45)" text-anchor="end" font-size="21.9" fill="#4d4d4d">Human herpesvirus 4</text>
<line x1="1849.7" x2="1849.7" y1="1105.55" y2="1115.75" stroke="#333333" stroke-width="4.2"/>
<text transform="translate(1858.7,1130.35) rotate(-45)" text-anchor="end" font-size="21.9" fill="#4d4d4d">Human herpesvirus 8</text>
<line x1="1887.6" x2="1887.6" y1="1105.55" y2="1115.75" stroke="#333333" stroke-width="4.2"/>
<text transform="translate(1896.6,1130.35) rotate(-45)" text-anchor="end" font-size="21.9" fill="#4d4d4d">Human immunodeficiency virus 1</text>
<line x1="1925.5" x2="1925.5" y1="1105.55" y2="1115.75" stroke="#333333" stroke-width="4.2"/>
<text transform="translate(1934.5,1130.35) rotate(-45)" text-anchor="end" font-size="21.9" fill="#4d4d4d">Hepatitis C virus</text>
<line x1="1963.4" x2="1963.4" y1="1105.55" y2="1115.75" stroke="#333333" stroke-width="4.2"/>
<text transform="translate(1972.4,1130.35) rotate(-45)" text-anchor="end" font-size="21.9" fill="#4d4d4d">Human herpesvirus 5</text>
<line x1="2001.3" x2="2001.3" y1="1105.55" y2="1115.75" stroke="#333333" stroke-width="4.2"/>
<text transform="translate(2010.3,1130.35) rotate(-45)" text-anchor="end" font-size="21.9" fill="#4d4d4d">Hepatitis B virus</text>
<line x1="2039.2" x2="2039.2" y1="1105.55" y2="1115.75" stroke="#333333" stroke-width="4.2"/>
<text transform="translate(2048.2,1130.35) rotate(-45)" text-anchor="end" font-size="21.9" fill="#4d4d4d">Influenza A virus</text>
</g>
<text x="8" y="40.8" font-size="76.5" fill="#000">a</text>
<text x="7.7" y="773.7" font-size="76.5" fill="#000">b</text>
<text x="10.5" y="1474.6" font-size="77.5" fill="#000">c</text>
<text transform="translate(45,254.2) rotate(-90)" text-anchor="middle" font-size="29" fill="#000">Peptides</text>
<text transform="translate(72.9,916) rotate(-90)" text-anchor="middle" font-size="29" fill="#000">Peptides</text>
<g>
<rect x="343.15" y="1491.85" width="1718.25" height="1128.05" fill="#fff"/>
<line x1="617.35" x2="617.35" y1="1491.85" y2="2619.9" stroke="#ebebeb" stroke-width="1.4"/>
<line x1="1007.65" x2="1007.65" y1="1491.85" y2="2619.9" stroke="#ebebeb" stroke-width="1.4"/>
<line x1="1397.95" x2="1397.95" y1="1491.85" y2="2619.9" stroke="#ebebeb" stroke-width="1.4"/>
<line x1="1788.25" x2="1788.25" y1="1491.85" y2="2619.9" stroke="#ebebeb" stroke-width="1.4"/>
<line x1="422.2" x2="422.2" y1="1491.85" y2="2619.9" stroke="#ebebeb" stroke-width="2.9"/>
<line x1="812.5" x2="812.5" y1="1491.85" y2="2619.9" stroke="#ebebeb" stroke-width="2.9"/>
<line x1="1202.8" x2="1202.8" y1="1491.85" y2="2619.9" stroke="#ebebeb" stroke-width="2.9"/>
<line x1="1593.1" x2="1593.1" y1="1491.85" y2="2619.9" stroke="#ebebeb" stroke-width="2.9"/>
<line x1="1983.4" x2="1983.4" y1="1491.85" y2="2619.9" stroke="#ebebeb" stroke-width="2.9"/>
<line x1="343.15" x2="2061.4" y1="1507.9" y2="1507.9" stroke="#ebebeb" stroke-width="2.8"/>
<line x1="343.15" x2="2061.4" y1="1535.31" y2="1535.31" stroke="#ebebeb" stroke-width="2.8"/>
<line x1="343.15" x2="2061.4" y1="1562.72" y2="1562.72" stroke="#ebebeb" stroke-width="2.8"/>
<line x1="343.15" x2="2061.4" y1="1590.14" y2="1590.14" stroke="#ebebeb" stroke-width="2.8"/>
<line x1="343.15" x2="2061.4" y1="1617.55" y2="1617.55" stroke="#ebebeb" stroke-width="2.8"/>
<line x1="343.15" x2="2061.4" y1="1644.96" y2="1644.96" stroke="#ebebeb" stroke-width="2.8"/>
<line x1="343.15" x2="2061.4" y1="1672.37" y2="1672.37" stroke="#ebebeb" stroke-width="2.8"/>
<line x1="343.15" x2="2061.4" y1="1699.78" y2="1699.78" stroke="#ebebeb" stroke-width="2.8"/>
<line x1="343.15" x2="2061.4" y1="1727.2" y2="1727.2" stroke="#ebebeb" stroke-width="2.8"/>
<line x1="343.15" x2="2061.4" y1="1754.61" y2="1754.61" stroke="#ebebeb" stroke-width="2.8"/>
<line x1="343.15" x2="2061.4" y1="1782.02" y2="1782.02" stroke="#ebebeb" stroke-width="2.8"/>
<line x1="343.15" x2="2061.4" y1="1809.43" y2="1809.43" stroke="#ebebeb" stroke-width="2.8"/>
<line x1="343.15" x2="2061.4" y1="1836.84" y2="1836.84" stroke="#ebebeb" stroke-width="2.8"/>
<line x1="343.15" x2="2061.4" y1="1864.26" y2="1864.26" stroke="#ebebeb" stroke-width="2.8"/>
<line x1="343.15" x2="2061.4" y1="1891.67" y2="1891.67" stroke="#ebebeb" stroke-width="2.8"/>
<line x1="343.15" x2="2061.4" y1="1919.08" y2="1919.08" stroke="#ebebeb" stroke-width="2.8"/>
<line x1="343.15" x2="2061.4" y1="1946.49" y2="1946.49" stroke="#ebebeb" stroke-width="2.8"/>
<line x1="343.15" x2="2061.4" y1="1973.9" y2="1973.9" stroke="#ebebeb" stroke-width="2.8"/>
<line x1="343.15" x2="2061.4" y1="2001.32" y2="2001.32" stroke="#ebebeb" stroke-width="2.8"/>
<line x1="343.15" x2="2061.4" y1="2028.73" y2="2028.73" stroke="#ebebeb" stroke-width="2.8"/>
<line x1="343.15" x2="2061.4" y1="2056.14" y2="2056.14" stroke="#ebebeb" stroke-width="2.8"/>
<line x1="343.15" x2="2061.4" y1="2083.55" y2="2083.55" stroke="#ebebeb" stroke-width="2.8"/>
<line x1="343.15" x2="2061.4" y1="2110.96" y2="2110.96" stroke="#ebebeb" stroke-width="2.8"/>
<line x1="343.15" x2="2061.4" y1="2138.38" y2="2138.38" stroke="#ebebeb" stroke-width="2.8"/>
<line x1="343.15" x2="2061.4" y1="2165.79" y2="2165.79" stroke="#ebebeb" stroke-width="2.8"/>
<line x1="343.15" x2="2061.4" y1="2193.2" y2="2193.2" stroke="#ebebeb" stroke-width="2.8"/>
<line x1="343.15" x2="2061.4" y1="2220.61" y2="2220.61" stroke="#ebebeb" stroke-width="2.8"/>
<line x1="343.15" x2="2061.4" y1="2248.02" y2="2248.02" stroke="#ebebeb" stroke-width="2.8"/>
<line x1="343.15" x2="2061.4" y1="2275.44" y2="2275.44" stroke="#ebebeb" stroke-width="2.8"/>
<line x1="343.15" x2="2061.4" y1="2302.85" y2="2302.85" stroke="#ebebeb" stroke-width="2.8"/>
<line x1="343.15" x2="2061.4" y1="2330.26" y2="2330.26" stroke="#ebebeb" stroke-width="2.8"/>
<line x1="343.15" x2="2061.4" y1="2357.67" y2="2357.67" stroke="#ebebeb" stroke-width="2.8"/>
<line x1="343.15" x2="2061.4" y1="2385.08" y2="2385.08" stroke="#ebebeb" stroke-width="2.8"/>
<line x1="343.15" x2="2061.4" y1="2412.5" y2="2412.5" stroke="#ebebeb" stroke-width="2.8"/>
<line x1="343.15" x2="2061.4" y1="2439.91" y2="2439.91" stroke="#ebebeb" stroke-width="2.8"/>
<line x1="343.15" x2="2061.4" y1="2467.32" y2="2467.32" stroke="#ebebeb" stroke-width="2.8"/>
<line x1="343.15" x2="2061.4" y1="2494.73" y2="2494.73" stroke="#ebebeb" stroke-width="2.8"/>
<line x1="343.15" x2="2061.4" y1="2522.14" y2="2522.14" stroke="#ebebeb" stroke-width="2.8"/>
<line x1="343.15" x2="2061.4" y1="2549.56" y2="2549.56" stroke="#ebebeb" stroke-width="2.8"/>
<line x1="343.15" x2="2061.4" y1="2576.97" y2="2576.97" stroke="#ebebeb" stroke-width="2.8"/>
<line x1="343.15" x2="2061.4" y1="2604.38" y2="2604.38" stroke="#ebebeb" stroke-width="2.8"/>
<g fill="#4a9e78" stroke="#4a9e78" stroke-width="11.9" stroke-linecap="round">
<circle cx="952.23" cy="1507.9" r="5.95" stroke="none"/>
<circle cx="963.16" cy="1507.9" r="5.95" stroke="none"/>
<circle cx="984.23" cy="1507.9" r="5.95" stroke="none"/>
<circle cx="1060.73" cy="1507.9" r="5.95" stroke="none"/>
<circle cx="1099.76" cy="1507.9" r="5.95" stroke="none"/>
<circle cx="1126.3" cy="1507.9" r="5.95" stroke="none"/>
<circle cx="1133.33" cy="1507.9" r="5.95" stroke="none"/>
<circle cx="1142.69" cy="1507.9" r="5.95" stroke="none"/>
<circle cx="1148.94" cy="1507.9" r="5.95" stroke="none"/>
<circle cx="1155.96" cy="1507.9" r="5.95" stroke="none"/>
<circle cx="1160.26" cy="1507.9" r="5.95" stroke="none"/>
<circle cx="1242.61" cy="1507.9" r="5.95" stroke="none"/>
<circle cx="1250.42" cy="1507.9" r="5.95" stroke="none"/>
<circle cx="1264.47" cy="1507.9" r="5.95" stroke="none"/>
<circle cx="1275.4" cy="1507.9" r="5.95" stroke="none"/>
<circle cx="1284.76" cy="1507.9" r="5.95" stroke="none"/>
<circle cx="1302.72" cy="1507.9" r="5.95" stroke="none"/>
<circle cx="1322.23" cy="1507.9" r="5.95" stroke="none"/>
<circle cx="1372.19" cy="1507.9" r="5.95" stroke="none"/>
<circle cx="1400.29" cy="1507.9" r="5.95" stroke="none"/>
<circle cx="1433.08" cy="1507.9" r="5.95" stroke="none"/>
<circle cx="1440.1" cy="1507.9" r="5.95" stroke="none"/>
</g>
<g fill="#bababa" stroke="#bababa" stroke-width="11.9" stroke-linecap="round">
<circle cx="1031.07" cy="1535.31" r="5.95" stroke="none"/>
<circle cx="1036.53" cy="1535.31" r="5.95" stroke="none"/>
<circle cx="1055.27" cy="1535.31" r="5.95" stroke="none"/>
<circle cx="1080.25" cy="1535.31" r="5.95" stroke="none"/>
<circle cx="1091.17" cy="1535.31" r="5.95" stroke="none"/>
<circle cx="1119.28" cy="1535.31" r="5.95" stroke="none"/>
<circle cx="1127.08" cy="1535.31" r="5.95" stroke="none"/>
<circle cx="1133.33" cy="1535.31" r="5.95" stroke="none"/>
<circle cx="1140.35" cy="1535.31" r="5.95" stroke="none"/>
<circle cx="1148.94" cy="1535.31" r="5.95" stroke="none"/>
<circle cx="1155.96" cy="1535.31" r="5.95" stroke="none"/>
<circle cx="1160.26" cy="1535.31" r="5.95" stroke="none"/>
<circle cx="1242.61" cy="1535.31" r="5.95" stroke="none"/>
<circle cx="1250.42" cy="1535.31" r="5.95" stroke="none"/>
<circle cx="1259" cy="1535.31" r="5.95" stroke="none"/>
<circle cx="1284.76" cy="1535.31" r="5.95" stroke="none"/>
<circle cx="1319.89" cy="1535.31" r="5.95" stroke="none"/>
<circle cx="1330.04" cy="1535.31" r="5.95" stroke="none"/>
<circle cx="1367.51" cy="1535.31" r="5.95" stroke="none"/>
<circle cx="1376.09" cy="1535.31" r="5.95" stroke="none"/>
<circle cx="1380.78" cy="1535.31" r="5.95" stroke="none"/>
<circle cx="1427.61" cy="1535.31" r="5.95" stroke="none"/>
<circle cx="1435.42" cy="1535.31" r="5.95" stroke="none"/>
<circle cx="1450.25" cy="1535.31" r="5.95" stroke="none"/>
<circle cx="1455.71" cy="1535.31" r="5.95" stroke="none"/>
</g>
<g fill="#bababa" stroke="#bababa" stroke-width="11.9" stroke-linecap="round">
<circle cx="958.47" cy="1562.72" r="5.95" stroke="none"/>
<circle cx="969.4" cy="1562.72" r="5.95" stroke="none"/>
<circle cx="977.21" cy="1562.72" r="5.95" stroke="none"/>
<circle cx="984.23" cy="1562.72" r="5.95" stroke="none"/>
<circle cx="1027.95" cy="1562.72" r="5.95" stroke="none"/>
<circle cx="1036.53" cy="1562.72" r="5.95" stroke="none"/>
<circle cx="1052.14" cy="1562.72" r="5.95" stroke="none"/>
<circle cx="1077.12" cy="1562.72" r="5.95" stroke="none"/>
<circle cx="1085.71" cy="1562.72" r="5.95" stroke="none"/>
<circle cx="1099.76" cy="1562.72" r="5.95" stroke="none"/>
<circle cx="1109.13" cy="1562.72" r="5.95" stroke="none"/>
<circle cx="1116.15" cy="1562.72" r="5.95" stroke="none"/>
<circle cx="1138.79" cy="1562.72" r="5.95" stroke="none"/>
<circle cx="1159.87" cy="1562.72" r="5.95" stroke="none"/>
<circle cx="1244.17" cy="1562.72" r="5.95" stroke="none"/>
<circle cx="1255.88" cy="1562.72" r="5.95" stroke="none"/>
<circle cx="1274.62" cy="1562.72" r="5.95" stroke="none"/>
<circle cx="1322.23" cy="1562.72" r="5.95" stroke="none"/>
<circle cx="1328.48" cy="1562.72" r="5.95" stroke="none"/>
<circle cx="1335.5" cy="1562.72" r="5.95" stroke="none"/>
<circle cx="1347.21" cy="1562.72" r="5.95" stroke="none"/>
<circle cx="1367.51" cy="1562.72" r="5.95" stroke="none"/>
<circle cx="1384.68" cy="1562.72" r="5.95" stroke="none"/>
<circle cx="1394.05" cy="1562.72" r="5.95" stroke="none"/>
<circle cx="1406.54" cy="1562.72" r="5.95" stroke="none"/>
<circle cx="1412.78" cy="1562.72" r="5.95" stroke="none"/>
<circle cx="1424.49" cy="1562.72" r="5.95" stroke="none"/>
<circle cx="1444.79" cy="1562.72" r="5.95" stroke="none"/>
<circle cx="1453.37" cy="1562.72" r="5.95" stroke="none"/>
</g>
<g fill="#bababa" stroke="#bababa" stroke-width="11.9" stroke-linecap="round">
<circle cx="1027.16" cy="1590.14" r="5.95" stroke="none"/>
<circle cx="1059.17" cy="1590.14" r="5.95" stroke="none"/>
<circle cx="1088.83" cy="1590.14" r="5.95" stroke="none"/>
<circle cx="1117.71" cy="1590.14" r="5.95" stroke="none"/>
<circle cx="1130.2" cy="1590.14" r="5.95" stroke="none"/>
<circle cx="1143.47" cy="1590.14" r="5.95" stroke="none"/>
<circle cx="1152.84" cy="1590.14" r="5.95" stroke="none"/>
<circle cx="1160.26" cy="1590.14" r="5.95" stroke="none"/>
<line x1="1242.61" x2="1305.06" y1="1590.14" y2="1590.14"/>
<circle cx="1390.14" cy="1590.14" r="5.95" stroke="none"/>
</g>
<g fill="#bababa" stroke="#bababa" stroke-width="11.9" stroke-linecap="round">
<circle cx="1242.61" cy="1617.55" r="5.95" stroke="none"/>
<circle cx="1251.98" cy="1617.55" r="5.95" stroke="none"/>
<circle cx="1270.71" cy="1617.55" r="5.95" stroke="none"/>
<circle cx="1277.74" cy="1617.55" r="5.95" stroke="none"/>
<circle cx="1284.76" cy="1617.55" r="5.95" stroke="none"/>
<circle cx="1309.74" cy="1617.55" r="5.95" stroke="none"/>
</g>
<g fill="#4a9e78" stroke="#4a9e78" stroke-width="11.9" stroke-linecap="round">
<circle cx="1113.81" cy="1644.96" r="5.95" stroke="none"/>
<circle cx="1126.3" cy="1644.96" r="5.95" stroke="none"/>
<circle cx="1136.45" cy="1644.96" r="5.95" stroke="none"/>
<circle cx="1144.25" cy="1644.96" r="5.95" stroke="none"/>
<circle cx="1152.84" cy="1644.96" r="5.95" stroke="none"/>
<circle cx="1160.26" cy="1644.96" r="5.95" stroke="none"/>
<line x1="1242.61" x2="1277.74" y1="1644.96" y2="1644.96"/>
<circle cx="1284.76" cy="1644.96" r="5.95" stroke="none"/>
<circle cx="1317.55" cy="1644.96" r="5.95" stroke="none"/>
<circle cx="1324.57" cy="1644.96" r="5.95" stroke="none"/>
</g>
<g fill="#bababa" stroke="#bababa" stroke-width="11.9" stroke-linecap="round">
<circle cx="1030.29" cy="1672.37" r="5.95" stroke="none"/>
<circle cx="1083.37" cy="1672.37" r="5.95" stroke="none"/>
<circle cx="1098.2" cy="1672.37" r="5.95" stroke="none"/>
<circle cx="1115.37" cy="1672.37" r="5.95" stroke="none"/>
<circle cx="1123.18" cy="1672.37" r="5.95" stroke="none"/>
<circle cx="1132.55" cy="1672.37" r="5.95" stroke="none"/>
<circle cx="1140.35" cy="1672.37" r="5.95" stroke="none"/>
<circle cx="1148.16" cy="1672.37" r="5.95" stroke="none"/>
<circle cx="1154.4" cy="1672.37" r="5.95" stroke="none"/>
<circle cx="1159.87" cy="1672.37" r="5.95" stroke="none"/>
<circle cx="1244.17" cy="1672.37" r="5.95" stroke="none"/>
<circle cx="1251.2" cy="1672.37" r="5.95" stroke="none"/>
<circle cx="1257.44" cy="1672.37" r="5.95" stroke="none"/>
<circle cx="1270.71" cy="1672.37" r="5.95" stroke="none"/>
<circle cx="1279.3" cy="1672.37" r="5.95" stroke="none"/>
<circle cx="1319.89" cy="1672.37" r="5.95" stroke="none"/>
<circle cx="1348.77" cy="1672.37" r="5.95" stroke="none"/>
<circle cx="1352.68" cy="1672.37" r="5.95" stroke="none"/>
<circle cx="1434.64" cy="1672.37" r="5.95" stroke="none"/>
</g>
<g fill="#4a9e78" stroke="#4a9e78" stroke-width="11.9" stroke-linecap="round">
<circle cx="678.24" cy="1699.78" r="5.95" stroke="none"/>
<circle cx="688.38" cy="1699.78" r="5.95" stroke="none"/>
<circle cx="704.78" cy="1699.78" r="5.95" stroke="none"/>
<circle cx="755.52" cy="1699.78" r="5.95" stroke="none"/>
<circle cx="796.11" cy="1699.78" r="5.95" stroke="none"/>
<circle cx="807.04" cy="1699.78" r="5.95" stroke="none"/>
<circle cx="868.7" cy="1699.78" r="5.95" stroke="none"/>
<circle cx="920.22" cy="1699.78" r="5.95" stroke="none"/>
<circle cx="939.74" cy="1699.78" r="5.95" stroke="none"/>
<circle cx="961.59" cy="1699.78" r="5.95" stroke="none"/>
<circle cx="1002.97" cy="1699.78" r="5.95" stroke="none"/>
<circle cx="1009.21" cy="1699.78" r="5.95" stroke="none"/>
<circle cx="1016.24" cy="1699.78" r="5.95" stroke="none"/>
<circle cx="1023.26" cy="1699.78" r="5.95" stroke="none"/>
<circle cx="1034.97" cy="1699.78" r="5.95" stroke="none"/>
<circle cx="1042.78" cy="1699.78" r="5.95" stroke="none"/>
<circle cx="1050.58" cy="1699.78" r="5.95" stroke="none"/>
<circle cx="1058.39" cy="1699.78" r="5.95" stroke="none"/>
<circle cx="1074.78" cy="1699.78" r="5.95" stroke="none"/>
<circle cx="1085.71" cy="1699.78" r="5.95" stroke="none"/>
<circle cx="1115.37" cy="1699.78" r="5.95" stroke="none"/>
<circle cx="1130.2" cy="1699.78" r="5.95" stroke="none"/>
<circle cx="1141.91" cy="1699.78" r="5.95" stroke="none"/>
<circle cx="1152.84" cy="1699.78" r="5.95" stroke="none"/>
<circle cx="1159.87" cy="1699.78" r="5.95" stroke="none"/>
<line x1="1242.61" x2="1330.04" y1="1699.78" y2="1699.78"/>
<circle cx="1337.84" cy="1699.78" r="5.95" stroke="none"/>
<circle cx="1344.87" cy="1699.78" r="5.95" stroke="none"/>
<circle cx="1380" cy="1699.78" r="5.95" stroke="none"/>
<circle cx="1410.44" cy="1699.78" r="5.95" stroke="none"/>
<circle cx="1434.64" cy="1699.78" r="5.95" stroke="none"/>
<circle cx="1444.79" cy="1699.78" r="5.95" stroke="none"/>
<circle cx="1454.15" cy="1699.78" r="5.95" stroke="none"/>
<circle cx="1461.18" cy="1699.78" r="5.95" stroke="none"/>
<circle cx="1472.11" cy="1699.78" r="5.95" stroke="none"/>
<circle cx="1480.69" cy="1699.78" r="5.95" stroke="none"/>
<circle cx="1486.16" cy="1699.78" r="5.95" stroke="none"/>
<circle cx="1491.62" cy="1699.78" r="5.95" stroke="none"/>
<circle cx="1530.65" cy="1699.78" r="5.95" stroke="none"/>
<circle cx="1561.1" cy="1699.78" r="5.95" stroke="none"/>
<circle cx="1602.47" cy="1699.78" r="5.95" stroke="none"/>
<circle cx="1613.4" cy="1699.78" r="5.95" stroke="none"/>
<circle cx="1714.87" cy="1699.78" r="5.95" stroke="none"/>
<circle cx="1723.46" cy="1699.78" r="5.95" stroke="none"/>
<circle cx="1735.95" cy="1699.78" r="5.95" stroke="none"/>
<circle cx="1753.12" cy="1699.78" r="5.95" stroke="none"/>
<circle cx="1821.04" cy="1699.78" r="5.95" stroke="none"/>
</g>
<g fill="#4a9e78" stroke="#4a9e78" stroke-width="11.9" stroke-linecap="round">
<circle cx="421.42" cy="1727.2" r="5.95" stroke="none"/>
<circle cx="429.23" cy="1727.2" r="5.95" stroke="none"/>
<circle cx="437.81" cy="1727.2" r="5.95" stroke="none"/>
<circle cx="451.86" cy="1727.2" r="5.95" stroke="none"/>
<circle cx="481.53" cy="1727.2" r="5.95" stroke="none"/>
<circle cx="490.89" cy="1727.2" r="5.95" stroke="none"/>
<circle cx="498.7" cy="1727.2" r="5.95" stroke="none"/>
<circle cx="508.07" cy="1727.2" r="5.95" stroke="none"/>
<circle cx="518.21" cy="1727.2" r="5.95" stroke="none"/>
<circle cx="532.26" cy="1727.2" r="5.95" stroke="none"/>
<circle cx="540.07" cy="1727.2" r="5.95" stroke="none"/>
<circle cx="547.1" cy="1727.2" r="5.95" stroke="none"/>
<circle cx="558.8" cy="1727.2" r="5.95" stroke="none"/>
<circle cx="570.51" cy="1727.2" r="5.95" stroke="none"/>
<circle cx="581.44" cy="1727.2" r="5.95" stroke="none"/>
<circle cx="596.27" cy="1727.2" r="5.95" stroke="none"/>
<circle cx="629.06" cy="1727.2" r="5.95" stroke="none"/>
<circle cx="632.18" cy="1727.2" r="5.95" stroke="none"/>
<circle cx="648.57" cy="1727.2" r="5.95" stroke="none"/>
<circle cx="657.94" cy="1727.2" r="5.95" stroke="none"/>
<circle cx="664.97" cy="1727.2" r="5.95" stroke="none"/>
<circle cx="685.26" cy="1727.2" r="5.95" stroke="none"/>
<circle cx="723.51" cy="1727.2" r="5.95" stroke="none"/>
<circle cx="743.03" cy="1727.2" r="5.95" stroke="none"/>
<circle cx="755.52" cy="1727.2" r="5.95" stroke="none"/>
<circle cx="760.98" cy="1727.2" r="5.95" stroke="none"/>
<circle cx="771.91" cy="1727.2" r="5.95" stroke="none"/>
<circle cx="790.64" cy="1727.2" r="5.95" stroke="none"/>
<circle cx="797.67" cy="1727.2" r="5.95" stroke="none"/>
<circle cx="807.04" cy="1727.2" r="5.95" stroke="none"/>
<circle cx="812.5" cy="1727.2" r="5.95" stroke="none"/>
<circle cx="817.18" cy="1727.2" r="5.95" stroke="none"/>
<circle cx="843.72" cy="1727.2" r="5.95" stroke="none"/>
<circle cx="853.87" cy="1727.2" r="5.95" stroke="none"/>
<circle cx="858.56" cy="1727.2" r="5.95" stroke="none"/>
<line x1="1160.26" x2="871.83" y1="1727.2" y2="1727.2"/>
<line x1="1242.61" x2="1448.69" y1="1727.2" y2="1727.2"/>
<circle cx="1457.28" cy="1727.2" r="5.95" stroke="none"/>
<circle cx="1485.38" cy="1727.2" r="5.95" stroke="none"/>
<line x1="1500.99" x2="1640.72" y1="1727.2" y2="1727.2"/>
<circle cx="1665.7" cy="1727.2" r="5.95" stroke="none"/>
<circle cx="1673.5" cy="1727.2" r="5.95" stroke="none"/>
<circle cx="1708.63" cy="1727.2" r="5.95" stroke="none"/>
<circle cx="1735.95" cy="1727.2" r="5.95" stroke="none"/>
<circle cx="1744.54" cy="1727.2" r="5.95" stroke="none"/>
<circle cx="1753.12" cy="1727.2" r="5.95" stroke="none"/>
<circle cx="1789.81" cy="1727.2" r="5.95" stroke="none"/>
<circle cx="1812.45" cy="1727.2" r="5.95" stroke="none"/>
<line x1="1835.09" x2="1962.32" y1="1727.2" y2="1727.2"/>
</g>
<g fill="#4a9e78" stroke="#4a9e78" stroke-width="11.9" stroke-linecap="round">
<circle cx="422.2" cy="1754.61" r="5.95" stroke="none"/>
<circle cx="469.04" cy="1754.61" r="5.95" stroke="none"/>
<circle cx="476.06" cy="1754.61" r="5.95" stroke="none"/>
<circle cx="508.85" cy="1754.61" r="5.95" stroke="none"/>
<circle cx="523.68" cy="1754.61" r="5.95" stroke="none"/>
<circle cx="534.61" cy="1754.61" r="5.95" stroke="none"/>
<circle cx="541.63" cy="1754.61" r="5.95" stroke="none"/>
<circle cx="552.56" cy="1754.61" r="5.95" stroke="none"/>
<circle cx="559.59" cy="1754.61" r="5.95" stroke="none"/>
<circle cx="567.39" cy="1754.61" r="5.95" stroke="none"/>
<circle cx="586.91" cy="1754.61" r="5.95" stroke="none"/>
<circle cx="592.37" cy="1754.61" r="5.95" stroke="none"/>
<circle cx="601.74" cy="1754.61" r="5.95" stroke="none"/>
<circle cx="608.76" cy="1754.61" r="5.95" stroke="none"/>
<circle cx="614.23" cy="1754.61" r="5.95" stroke="none"/>
<circle cx="634.52" cy="1754.61" r="5.95" stroke="none"/>
<circle cx="678.24" cy="1754.61" r="5.95" stroke="none"/>
<circle cx="688.38" cy="1754.61" r="5.95" stroke="none"/>
<circle cx="699.31" cy="1754.61" r="5.95" stroke="none"/>
<circle cx="707.9" cy="1754.61" r="5.95" stroke="none"/>
<circle cx="741.47" cy="1754.61" r="5.95" stroke="none"/>
<circle cx="750.05" cy="1754.61" r="5.95" stroke="none"/>
<circle cx="780.5" cy="1754.61" r="5.95" stroke="none"/>
<circle cx="792.2" cy="1754.61" r="5.95" stroke="none"/>
<circle cx="801.57" cy="1754.61" r="5.95" stroke="none"/>
<circle cx="807.04" cy="1754.61" r="5.95" stroke="none"/>
<circle cx="830.45" cy="1754.61" r="5.95" stroke="none"/>
<circle cx="852.31" cy="1754.61" r="5.95" stroke="none"/>
<circle cx="857.77" cy="1754.61" r="5.95" stroke="none"/>
<circle cx="863.24" cy="1754.61" r="5.95" stroke="none"/>
<line x1="955.35" x2="924.91" y1="1754.61" y2="1754.61"/>
<line x1="1037.31" x2="973.3" y1="1754.61" y2="1754.61"/>
<line x1="1160.26" x2="1048.24" y1="1754.61" y2="1754.61"/>
<line x1="1242.61" x2="1491.62" y1="1754.61" y2="1754.61"/>
<line x1="1502.55" x2="1569.68" y1="1754.61" y2="1754.61"/>
<circle cx="1582.95" cy="1754.61" r="5.95" stroke="none"/>
<circle cx="1598.56" cy="1754.61" r="5.95" stroke="none"/>
<circle cx="1612.62" cy="1754.61" r="5.95" stroke="none"/>
<circle cx="1620.42" cy="1754.61" r="5.95" stroke="none"/>
<circle cx="1661.01" cy="1754.61" r="5.95" stroke="none"/>
<circle cx="1672.72" cy="1754.61" r="5.95" stroke="none"/>
<circle cx="1682.87" cy="1754.61" r="5.95" stroke="none"/>
<circle cx="1702.38" cy="1754.61" r="5.95" stroke="none"/>
<circle cx="1710.19" cy="1754.61" r="5.95" stroke="none"/>
<circle cx="1718" cy="1754.61" r="5.95" stroke="none"/>
<circle cx="1727.36" cy="1754.61" r="5.95" stroke="none"/>
<circle cx="1739.07" cy="1754.61" r="5.95" stroke="none"/>
<circle cx="1750.78" cy="1754.61" r="5.95" stroke="none"/>
<circle cx="1773.42" cy="1754.61" r="5.95" stroke="none"/>
<circle cx="1797.62" cy="1754.61" r="5.95" stroke="none"/>
<circle cx="1806.2" cy="1754.61" r="5.95" stroke="none"/>
<circle cx="1840.55" cy="1754.61" r="5.95" stroke="none"/>
<circle cx="1851.48" cy="1754.61" r="5.95" stroke="none"/>
<circle cx="1863.19" cy="1754.61" r="5.95" stroke="none"/>
<circle cx="1878.8" cy="1754.61" r="5.95" stroke="none"/>
<circle cx="1887.39" cy="1754.61" r="5.95" stroke="none"/>
<circle cx="1896.75" cy="1754.61" r="5.95" stroke="none"/>
<circle cx="1906.12" cy="1754.61" r="5.95" stroke="none"/>
<circle cx="1913.15" cy="1754.61" r="5.95" stroke="none"/>
<circle cx="1921.73" cy="1754.61" r="5.95" stroke="none"/>
</g>
<g fill="#4a9e78" stroke="#4a9e78" stroke-width="11.9" stroke-linecap="round">
<circle cx="653.26" cy="1782.02" r="5.95" stroke="none"/>
<circle cx="902.27" cy="1782.02" r="5.95" stroke="none"/>
<circle cx="915.54" cy="1782.02" r="5.95" stroke="none"/>
<circle cx="990.48" cy="1782.02" r="5.95" stroke="none"/>
<circle cx="1027.95" cy="1782.02" r="5.95" stroke="none"/>
<circle cx="1038.87" cy="1782.02" r="5.95" stroke="none"/>
<circle cx="1049.02" cy="1782.02" r="5.95" stroke="none"/>
<circle cx="1102.1" cy="1782.02" r="5.95" stroke="none"/>
<circle cx="1132.55" cy="1782.02" r="5.95" stroke="none"/>
<circle cx="1160.26" cy="1782.02" r="5.95" stroke="none"/>
<circle cx="1249.64" cy="1782.02" r="5.95" stroke="none"/>
<circle cx="1289.45" cy="1782.02" r="5.95" stroke="none"/>
<circle cx="1295.69" cy="1782.02" r="5.95" stroke="none"/>
<circle cx="1319.89" cy="1782.02" r="5.95" stroke="none"/>
<circle cx="1349.55" cy="1782.02" r="5.95" stroke="none"/>
<circle cx="1355.8" cy="1782.02" r="5.95" stroke="none"/>
<circle cx="1367.51" cy="1782.02" r="5.95" stroke="none"/>
<circle cx="1392.49" cy="1782.02" r="5.95" stroke="none"/>
<circle cx="1397.95" cy="1782.02" r="5.95" stroke="none"/>
<circle cx="1425.27" cy="1782.02" r="5.95" stroke="none"/>
<circle cx="1490.06" cy="1782.02" r="5.95" stroke="none"/>
<circle cx="1502.55" cy="1782.02" r="5.95" stroke="none"/>
<circle cx="1636.03" cy="1782.02" r="5.95" stroke="none"/>
<circle cx="1781.22" cy="1782.02" r="5.95" stroke="none"/>
</g>
<g fill="#de9ed5" stroke="#de9ed5" stroke-width="11.9" stroke-linecap="round">
<circle cx="910.86" cy="1809.43" r="5.95" stroke="none"/>
<circle cx="992.04" cy="1809.43" r="5.95" stroke="none"/>
<circle cx="1023.26" cy="1809.43" r="5.95" stroke="none"/>
<circle cx="1031.07" cy="1809.43" r="5.95" stroke="none"/>
<circle cx="1038.87" cy="1809.43" r="5.95" stroke="none"/>
<circle cx="1046.68" cy="1809.43" r="5.95" stroke="none"/>
<circle cx="1056.05" cy="1809.43" r="5.95" stroke="none"/>
<circle cx="1090.39" cy="1809.43" r="5.95" stroke="none"/>
<circle cx="1108.35" cy="1809.43" r="5.95" stroke="none"/>
<circle cx="1123.18" cy="1809.43" r="5.95" stroke="none"/>
<circle cx="1130.98" cy="1809.43" r="5.95" stroke="none"/>
<circle cx="1143.47" cy="1809.43" r="5.95" stroke="none"/>
<circle cx="1151.28" cy="1809.43" r="5.95" stroke="none"/>
<circle cx="1157.53" cy="1809.43" r="5.95" stroke="none"/>
<circle cx="1160.26" cy="1809.43" r="5.95" stroke="none"/>
<line x1="1242.61" x2="1330.04" y1="1809.43" y2="1809.43"/>
<circle cx="1359.7" cy="1809.43" r="5.95" stroke="none"/>
<circle cx="1401.85" cy="1809.43" r="5.95" stroke="none"/>
<circle cx="1410.44" cy="1809.43" r="5.95" stroke="none"/>
<circle cx="1427.61" cy="1809.43" r="5.95" stroke="none"/>
<circle cx="1440.1" cy="1809.43" r="5.95" stroke="none"/>
<circle cx="1450.25" cy="1809.43" r="5.95" stroke="none"/>
<circle cx="1476.01" cy="1809.43" r="5.95" stroke="none"/>
<circle cx="1484.6" cy="1809.43" r="5.95" stroke="none"/>
<circle cx="1493.18" cy="1809.43" r="5.95" stroke="none"/>
<circle cx="1508.01" cy="1809.43" r="5.95" stroke="none"/>
</g>
<g fill="#de9ed5" stroke="#de9ed5" stroke-width="11.9" stroke-linecap="round">
<circle cx="865.58" cy="1836.84" r="5.95" stroke="none"/>
<circle cx="899.93" cy="1836.84" r="5.95" stroke="none"/>
<circle cx="927.25" cy="1836.84" r="5.95" stroke="none"/>
<circle cx="932.71" cy="1836.84" r="5.95" stroke="none"/>
<circle cx="992.04" cy="1836.84" r="5.95" stroke="none"/>
<circle cx="1002.97" cy="1836.84" r="5.95" stroke="none"/>
<circle cx="1009.99" cy="1836.84" r="5.95" stroke="none"/>
<circle cx="1021.7" cy="1836.84" r="5.95" stroke="none"/>
<circle cx="1065.41" cy="1836.84" r="5.95" stroke="none"/>
<circle cx="1074.78" cy="1836.84" r="5.95" stroke="none"/>
<line x1="1160.26" x2="1090.39" y1="1836.84" y2="1836.84"/>
<line x1="1242.61" x2="1366.73" y1="1836.84" y2="1836.84"/>
<circle cx="1377.65" cy="1836.84" r="5.95" stroke="none"/>
<circle cx="1387.8" cy="1836.84" r="5.95" stroke="none"/>
<circle cx="1394.05" cy="1836.84" r="5.95" stroke="none"/>
<circle cx="1410.44" cy="1836.84" r="5.95" stroke="none"/>
<circle cx="1434.64" cy="1836.84" r="5.95" stroke="none"/>
<circle cx="1452.59" cy="1836.84" r="5.95" stroke="none"/>
<circle cx="1465.08" cy="1836.84" r="5.95" stroke="none"/>
<circle cx="1479.13" cy="1836.84" r="5.95" stroke="none"/>
<circle cx="1485.38" cy="1836.84" r="5.95" stroke="none"/>
<circle cx="1502.55" cy="1836.84" r="5.95" stroke="none"/>
<circle cx="1510.36" cy="1836.84" r="5.95" stroke="none"/>
<circle cx="1646.18" cy="1836.84" r="5.95" stroke="none"/>
</g>
<g fill="#de9ed5" stroke="#de9ed5" stroke-width="11.9" stroke-linecap="round">
<circle cx="527.58" cy="1864.26" r="5.95" stroke="none"/>
<circle cx="771.91" cy="1864.26" r="5.95" stroke="none"/>
<circle cx="785.96" cy="1864.26" r="5.95" stroke="none"/>
<circle cx="796.11" cy="1864.26" r="5.95" stroke="none"/>
<circle cx="810.16" cy="1864.26" r="5.95" stroke="none"/>
<circle cx="821.87" cy="1864.26" r="5.95" stroke="none"/>
<circle cx="942.08" cy="1864.26" r="5.95" stroke="none"/>
<circle cx="956.91" cy="1864.26" r="5.95" stroke="none"/>
<circle cx="968.62" cy="1864.26" r="5.95" stroke="none"/>
<circle cx="974.86" cy="1864.26" r="5.95" stroke="none"/>
<circle cx="997.5" cy="1864.26" r="5.95" stroke="none"/>
<circle cx="1006.09" cy="1864.26" r="5.95" stroke="none"/>
<circle cx="1024.04" cy="1864.26" r="5.95" stroke="none"/>
<circle cx="1038.87" cy="1864.26" r="5.95" stroke="none"/>
<circle cx="1050.58" cy="1864.26" r="5.95" stroke="none"/>
<circle cx="1058.39" cy="1864.26" r="5.95" stroke="none"/>
<circle cx="1063.85" cy="1864.26" r="5.95" stroke="none"/>
<line x1="1159.87" x2="1070.88" y1="1864.26" y2="1864.26"/>
<line x1="1244.95" x2="1362.82" y1="1864.26" y2="1864.26"/>
<circle cx="1372.19" cy="1864.26" r="5.95" stroke="none"/>
<circle cx="1381.56" cy="1864.26" r="5.95" stroke="none"/>
<circle cx="1406.54" cy="1864.26" r="5.95" stroke="none"/>
<circle cx="1413.56" cy="1864.26" r="5.95" stroke="none"/>
<circle cx="1421.37" cy="1864.26" r="5.95" stroke="none"/>
<circle cx="1428.39" cy="1864.26" r="5.95" stroke="none"/>
<circle cx="1451.81" cy="1864.26" r="5.95" stroke="none"/>
<circle cx="1458.06" cy="1864.26" r="5.95" stroke="none"/>
<circle cx="1470.55" cy="1864.26" r="5.95" stroke="none"/>
<circle cx="1500.21" cy="1864.26" r="5.95" stroke="none"/>
<circle cx="1504.89" cy="1864.26" r="5.95" stroke="none"/>
<circle cx="1529.87" cy="1864.26" r="5.95" stroke="none"/>
<circle cx="1538.46" cy="1864.26" r="5.95" stroke="none"/>
<circle cx="1553.29" cy="1864.26" r="5.95" stroke="none"/>
<circle cx="1655.55" cy="1864.26" r="5.95" stroke="none"/>
<circle cx="1661.79" cy="1864.26" r="5.95" stroke="none"/>
<circle cx="1685.99" cy="1864.26" r="5.95" stroke="none"/>
<circle cx="1702.38" cy="1864.26" r="5.95" stroke="none"/>
<circle cx="1707.07" cy="1864.26" r="5.95" stroke="none"/>
<circle cx="1758.59" cy="1864.26" r="5.95" stroke="none"/>
<circle cx="1778.1" cy="1864.26" r="5.95" stroke="none"/>
<circle cx="1893.63" cy="1864.26" r="5.95" stroke="none"/>
<circle cx="1933.44" cy="1864.26" r="5.95" stroke="none"/>
</g>
<g fill="#de9ed5" stroke="#de9ed5" stroke-width="11.9" stroke-linecap="round">
<circle cx="886.66" cy="1891.67" r="5.95" stroke="none"/>
<circle cx="970.96" cy="1891.67" r="5.95" stroke="none"/>
<circle cx="1020.92" cy="1891.67" r="5.95" stroke="none"/>
<circle cx="1049.02" cy="1891.67" r="5.95" stroke="none"/>
<circle cx="1055.27" cy="1891.67" r="5.95" stroke="none"/>
<circle cx="1069.32" cy="1891.67" r="5.95" stroke="none"/>
<circle cx="1082.59" cy="1891.67" r="5.95" stroke="none"/>
<circle cx="1114.59" cy="1891.67" r="5.95" stroke="none"/>
<circle cx="1126.3" cy="1891.67" r="5.95" stroke="none"/>
<circle cx="1141.91" cy="1891.67" r="5.95" stroke="none"/>
<circle cx="1149.72" cy="1891.67" r="5.95" stroke="none"/>
<circle cx="1155.96" cy="1891.67" r="5.95" stroke="none"/>
<circle cx="1159.87" cy="1891.67" r="5.95" stroke="none"/>
<circle cx="1242.61" cy="1891.67" r="5.95" stroke="none"/>
<circle cx="1249.64" cy="1891.67" r="5.95" stroke="none"/>
<circle cx="1257.44" cy="1891.67" r="5.95" stroke="none"/>
<circle cx="1265.25" cy="1891.67" r="5.95" stroke="none"/>
<circle cx="1273.05" cy="1891.67" r="5.95" stroke="none"/>
<circle cx="1279.3" cy="1891.67" r="5.95" stroke="none"/>
<circle cx="1288.67" cy="1891.67" r="5.95" stroke="none"/>
<circle cx="1298.03" cy="1891.67" r="5.95" stroke="none"/>
<circle cx="1337.84" cy="1891.67" r="5.95" stroke="none"/>
<circle cx="1346.43" cy="1891.67" r="5.95" stroke="none"/>
<circle cx="1357.36" cy="1891.67" r="5.95" stroke="none"/>
<circle cx="1372.97" cy="1891.67" r="5.95" stroke="none"/>
<circle cx="1394.05" cy="1891.67" r="5.95" stroke="none"/>
<circle cx="1402.63" cy="1891.67" r="5.95" stroke="none"/>
<circle cx="1410.44" cy="1891.67" r="5.95" stroke="none"/>
<circle cx="1417.46" cy="1891.67" r="5.95" stroke="none"/>
<circle cx="1450.25" cy="1891.67" r="5.95" stroke="none"/>
<circle cx="1511.14" cy="1891.67" r="5.95" stroke="none"/>
<circle cx="1570.46" cy="1891.67" r="5.95" stroke="none"/>
<circle cx="1600.91" cy="1891.67" r="5.95" stroke="none"/>
</g>
<g fill="#de9ed5" stroke="#de9ed5" stroke-width="11.9" stroke-linecap="round">
<circle cx="747.71" cy="1919.08" r="5.95" stroke="none"/>
<circle cx="906.95" cy="1919.08" r="5.95" stroke="none"/>
<circle cx="991.26" cy="1919.08" r="5.95" stroke="none"/>
<circle cx="1008.43" cy="1919.08" r="5.95" stroke="none"/>
<circle cx="1042" cy="1919.08" r="5.95" stroke="none"/>
<circle cx="1064.63" cy="1919.08" r="5.95" stroke="none"/>
<circle cx="1099.76" cy="1919.08" r="5.95" stroke="none"/>
<circle cx="1109.13" cy="1919.08" r="5.95" stroke="none"/>
<circle cx="1115.37" cy="1919.08" r="5.95" stroke="none"/>
<circle cx="1132.55" cy="1919.08" r="5.95" stroke="none"/>
<circle cx="1140.35" cy="1919.08" r="5.95" stroke="none"/>
<circle cx="1148.16" cy="1919.08" r="5.95" stroke="none"/>
<circle cx="1155.96" cy="1919.08" r="5.95" stroke="none"/>
<circle cx="1160.26" cy="1919.08" r="5.95" stroke="none"/>
<circle cx="1242.61" cy="1919.08" r="5.95" stroke="none"/>
<circle cx="1249.64" cy="1919.08" r="5.95" stroke="none"/>
<circle cx="1257.44" cy="1919.08" r="5.95" stroke="none"/>
<circle cx="1265.25" cy="1919.08" r="5.95" stroke="none"/>
<circle cx="1272.27" cy="1919.08" r="5.95" stroke="none"/>
<circle cx="1288.67" cy="1919.08" r="5.95" stroke="none"/>
<circle cx="1296.47" cy="1919.08" r="5.95" stroke="none"/>
<circle cx="1305.84" cy="1919.08" r="5.95" stroke="none"/>
<circle cx="1315.99" cy="1919.08" r="5.95" stroke="none"/>
<circle cx="1323.79" cy="1919.08" r="5.95" stroke="none"/>
<circle cx="1331.6" cy="1919.08" r="5.95" stroke="none"/>
<circle cx="1377.65" cy="1919.08" r="5.95" stroke="none"/>
<circle cx="1389.36" cy="1919.08" r="5.95" stroke="none"/>
<circle cx="1397.95" cy="1919.08" r="5.95" stroke="none"/>
<circle cx="1412.78" cy="1919.08" r="5.95" stroke="none"/>
<circle cx="1440.1" cy="1919.08" r="5.95" stroke="none"/>
<circle cx="1483.04" cy="1919.08" r="5.95" stroke="none"/>
<circle cx="1512.7" cy="1919.08" r="5.95" stroke="none"/>
<circle cx="1545.48" cy="1919.08" r="5.95" stroke="none"/>
</g>
<g fill="#de9ed5" stroke="#de9ed5" stroke-width="11.9" stroke-linecap="round">
<circle cx="786.74" cy="1946.49" r="5.95" stroke="none"/>
<circle cx="927.25" cy="1946.49" r="5.95" stroke="none"/>
<circle cx="971.74" cy="1946.49" r="5.95" stroke="none"/>
<circle cx="1044.34" cy="1946.49" r="5.95" stroke="none"/>
<circle cx="1058.39" cy="1946.49" r="5.95" stroke="none"/>
<circle cx="1066.19" cy="1946.49" r="5.95" stroke="none"/>
<circle cx="1074" cy="1946.49" r="5.95" stroke="none"/>
<circle cx="1081.81" cy="1946.49" r="5.95" stroke="none"/>
<circle cx="1103.66" cy="1946.49" r="5.95" stroke="none"/>
<line x1="1160.26" x2="1116.15" y1="1946.49" y2="1946.49"/>
<line x1="1242.61" x2="1344.87" y1="1946.49" y2="1946.49"/>
<circle cx="1376.87" cy="1946.49" r="5.95" stroke="none"/>
<circle cx="1383.12" cy="1946.49" r="5.95" stroke="none"/>
<circle cx="1398.73" cy="1946.49" r="5.95" stroke="none"/>
<circle cx="1402.63" cy="1946.49" r="5.95" stroke="none"/>
<circle cx="1432.3" cy="1946.49" r="5.95" stroke="none"/>
<circle cx="1502.55" cy="1946.49" r="5.95" stroke="none"/>
<circle cx="1511.14" cy="1946.49" r="5.95" stroke="none"/>
<circle cx="1646.18" cy="1946.49" r="5.95" stroke="none"/>
</g>
<g fill="#bababa" stroke="#bababa" stroke-width="11.9" stroke-linecap="round">
<circle cx="650.92" cy="1973.9" r="5.95" stroke="none"/>
<circle cx="789.86" cy="1973.9" r="5.95" stroke="none"/>
<circle cx="874.17" cy="1973.9" r="5.95" stroke="none"/>
<circle cx="910.07" cy="1973.9" r="5.95" stroke="none"/>
<circle cx="960.81" cy="1973.9" r="5.95" stroke="none"/>
<circle cx="1006.87" cy="1973.9" r="5.95" stroke="none"/>
<circle cx="1028.73" cy="1973.9" r="5.95" stroke="none"/>
<circle cx="1034.19" cy="1973.9" r="5.95" stroke="none"/>
<circle cx="1113.03" cy="1973.9" r="5.95" stroke="none"/>
<line x1="1160.26" x2="1128.64" y1="1973.9" y2="1973.9"/>
<line x1="1242.61" x2="1268.37" y1="1973.9" y2="1973.9"/>
<circle cx="1282.42" cy="1973.9" r="5.95" stroke="none"/>
<circle cx="1288.67" cy="1973.9" r="5.95" stroke="none"/>
<circle cx="1295.69" cy="1973.9" r="5.95" stroke="none"/>
<circle cx="1344.87" cy="1973.9" r="5.95" stroke="none"/>
</g>
<g fill="#cd3e52" stroke="#cd3e52" stroke-width="11.9" stroke-linecap="round">
<circle cx="619.69" cy="2001.32" r="5.95" stroke="none"/>
<circle cx="625.16" cy="2001.32" r="5.95" stroke="none"/>
<circle cx="684.48" cy="2001.32" r="5.95" stroke="none"/>
<circle cx="696.97" cy="2001.32" r="5.95" stroke="none"/>
<circle cx="715.71" cy="2001.32" r="5.95" stroke="none"/>
<circle cx="722.73" cy="2001.32" r="5.95" stroke="none"/>
<circle cx="730.54" cy="2001.32" r="5.95" stroke="none"/>
<circle cx="734.44" cy="2001.32" r="5.95" stroke="none"/>
<circle cx="744.59" cy="2001.32" r="5.95" stroke="none"/>
<circle cx="751.61" cy="2001.32" r="5.95" stroke="none"/>
<circle cx="760.98" cy="2001.32" r="5.95" stroke="none"/>
<circle cx="766.44" cy="2001.32" r="5.95" stroke="none"/>
<circle cx="772.69" cy="2001.32" r="5.95" stroke="none"/>
<circle cx="790.64" cy="2001.32" r="5.95" stroke="none"/>
<circle cx="797.67" cy="2001.32" r="5.95" stroke="none"/>
<circle cx="802.35" cy="2001.32" r="5.95" stroke="none"/>
<circle cx="818.74" cy="2001.32" r="5.95" stroke="none"/>
<circle cx="828.89" cy="2001.32" r="5.95" stroke="none"/>
<circle cx="835.14" cy="2001.32" r="5.95" stroke="none"/>
<circle cx="840.6" cy="2001.32" r="5.95" stroke="none"/>
<circle cx="860.12" cy="2001.32" r="5.95" stroke="none"/>
<circle cx="875.73" cy="2001.32" r="5.95" stroke="none"/>
<circle cx="886.66" cy="2001.32" r="5.95" stroke="none"/>
<circle cx="896.8" cy="2001.32" r="5.95" stroke="none"/>
<circle cx="903.05" cy="2001.32" r="5.95" stroke="none"/>
<circle cx="910.07" cy="2001.32" r="5.95" stroke="none"/>
<circle cx="919.44" cy="2001.32" r="5.95" stroke="none"/>
<circle cx="930.37" cy="2001.32" r="5.95" stroke="none"/>
<circle cx="937.4" cy="2001.32" r="5.95" stroke="none"/>
<circle cx="955.35" cy="2001.32" r="5.95" stroke="none"/>
<circle cx="963.16" cy="2001.32" r="5.95" stroke="none"/>
<circle cx="970.18" cy="2001.32" r="5.95" stroke="none"/>
<circle cx="977.21" cy="2001.32" r="5.95" stroke="none"/>
<line x1="1160.26" x2="988.13" y1="2001.32" y2="2001.32"/>
<line x1="1242.61" x2="1459.62" y1="2001.32" y2="2001.32"/>
<circle cx="1473.67" cy="2001.32" r="5.95" stroke="none"/>
<circle cx="1480.69" cy="2001.32" r="5.95" stroke="none"/>
<circle cx="1494.74" cy="2001.32" r="5.95" stroke="none"/>
<circle cx="1501.77" cy="2001.32" r="5.95" stroke="none"/>
<circle cx="1508.8" cy="2001.32" r="5.95" stroke="none"/>
<circle cx="1518.94" cy="2001.32" r="5.95" stroke="none"/>
<circle cx="1526.75" cy="2001.32" r="5.95" stroke="none"/>
<circle cx="1535.34" cy="2001.32" r="5.95" stroke="none"/>
<circle cx="1542.36" cy="2001.32" r="5.95" stroke="none"/>
<circle cx="1547.04" cy="2001.32" r="5.95" stroke="none"/>
<circle cx="1565" cy="2001.32" r="5.95" stroke="none"/>
<circle cx="1573.59" cy="2001.32" r="5.95" stroke="none"/>
<circle cx="1591.54" cy="2001.32" r="5.95" stroke="none"/>
<circle cx="1599.34" cy="2001.32" r="5.95" stroke="none"/>
<line x1="1610.27" x2="1677.4" y1="2001.32" y2="2001.32"/>
<circle cx="1685.99" cy="2001.32" r="5.95" stroke="none"/>
<circle cx="1693.8" cy="2001.32" r="5.95" stroke="none"/>
<circle cx="1700.04" cy="2001.32" r="5.95" stroke="none"/>
</g>
<g fill="#cd3e52" stroke="#cd3e52" stroke-width="11.9" stroke-linecap="round">
<circle cx="777.37" cy="2028.73" r="5.95" stroke="none"/>
<circle cx="910.07" cy="2028.73" r="5.95" stroke="none"/>
<circle cx="942.86" cy="2028.73" r="5.95" stroke="none"/>
<circle cx="955.35" cy="2028.73" r="5.95" stroke="none"/>
<line x1="1065.41" x2="1028.73" y1="2028.73" y2="2028.73"/>
<line x1="1160.26" x2="1080.25" y1="2028.73" y2="2028.73"/>
<line x1="1242.61" x2="1314.43" y1="2028.73" y2="2028.73"/>
<circle cx="1326.92" cy="2028.73" r="5.95" stroke="none"/>
<circle cx="1339.4" cy="2028.73" r="5.95" stroke="none"/>
<circle cx="1355.02" cy="2028.73" r="5.95" stroke="none"/>
<circle cx="1366.73" cy="2028.73" r="5.95" stroke="none"/>
<circle cx="1374.53" cy="2028.73" r="5.95" stroke="none"/>
<circle cx="1382.34" cy="2028.73" r="5.95" stroke="none"/>
<circle cx="1387.02" cy="2028.73" r="5.95" stroke="none"/>
<circle cx="1400.29" cy="2028.73" r="5.95" stroke="none"/>
<circle cx="1417.46" cy="2028.73" r="5.95" stroke="none"/>
<circle cx="1461.96" cy="2028.73" r="5.95" stroke="none"/>
<circle cx="1468.2" cy="2028.73" r="5.95" stroke="none"/>
<circle cx="1502.55" cy="2028.73" r="5.95" stroke="none"/>
<circle cx="1511.14" cy="2028.73" r="5.95" stroke="none"/>
<circle cx="1555.63" cy="2028.73" r="5.95" stroke="none"/>
<circle cx="1622.76" cy="2028.73" r="5.95" stroke="none"/>
</g>
<g fill="#cd3e52" stroke="#cd3e52" stroke-width="11.9" stroke-linecap="round">
<circle cx="424.54" cy="2056.14" r="5.95" stroke="none"/>
<circle cx="429.23" cy="2056.14" r="5.95" stroke="none"/>
<circle cx="443.28" cy="2056.14" r="5.95" stroke="none"/>
<circle cx="448.74" cy="2056.14" r="5.95" stroke="none"/>
<circle cx="454.2" cy="2056.14" r="5.95" stroke="none"/>
<circle cx="550.22" cy="2056.14" r="5.95" stroke="none"/>
<circle cx="611.89" cy="2056.14" r="5.95" stroke="none"/>
<circle cx="631.4" cy="2056.14" r="5.95" stroke="none"/>
<circle cx="641.55" cy="2056.14" r="5.95" stroke="none"/>
<circle cx="648.57" cy="2056.14" r="5.95" stroke="none"/>
<circle cx="665.75" cy="2056.14" r="5.95" stroke="none"/>
<circle cx="690.73" cy="2056.14" r="5.95" stroke="none"/>
<circle cx="712.58" cy="2056.14" r="5.95" stroke="none"/>
<circle cx="725.85" cy="2056.14" r="5.95" stroke="none"/>
<circle cx="775.81" cy="2056.14" r="5.95" stroke="none"/>
<circle cx="779.71" cy="2056.14" r="5.95" stroke="none"/>
<circle cx="795.33" cy="2056.14" r="5.95" stroke="none"/>
<circle cx="849.19" cy="2056.14" r="5.95" stroke="none"/>
<circle cx="964.72" cy="2056.14" r="5.95" stroke="none"/>
<circle cx="977.21" cy="2056.14" r="5.95" stroke="none"/>
<circle cx="1004.53" cy="2056.14" r="5.95" stroke="none"/>
<circle cx="1016.24" cy="2056.14" r="5.95" stroke="none"/>
<circle cx="1044.34" cy="2056.14" r="5.95" stroke="none"/>
<circle cx="1065.41" cy="2056.14" r="5.95" stroke="none"/>
<circle cx="1085.71" cy="2056.14" r="5.95" stroke="none"/>
<circle cx="1095.86" cy="2056.14" r="5.95" stroke="none"/>
<circle cx="1116.15" cy="2056.14" r="5.95" stroke="none"/>
<circle cx="1127.08" cy="2056.14" r="5.95" stroke="none"/>
<circle cx="1136.45" cy="2056.14" r="5.95" stroke="none"/>
<circle cx="1145.04" cy="2056.14" r="5.95" stroke="none"/>
<circle cx="1152.84" cy="2056.14" r="5.95" stroke="none"/>
<circle cx="1160.26" cy="2056.14" r="5.95" stroke="none"/>
<line x1="1242.61" x2="1301.16" y1="2056.14" y2="2056.14"/>
<circle cx="1337.06" cy="2056.14" r="5.95" stroke="none"/>
<circle cx="1348.77" cy="2056.14" r="5.95" stroke="none"/>
<circle cx="1355.8" cy="2056.14" r="5.95" stroke="none"/>
<circle cx="1362.82" cy="2056.14" r="5.95" stroke="none"/>
<circle cx="1384.68" cy="2056.14" r="5.95" stroke="none"/>
<circle cx="1392.49" cy="2056.14" r="5.95" stroke="none"/>
<circle cx="1417.46" cy="2056.14" r="5.95" stroke="none"/>
<circle cx="1422.93" cy="2056.14" r="5.95" stroke="none"/>
<circle cx="1434.64" cy="2056.14" r="5.95" stroke="none"/>
<circle cx="1451.03" cy="2056.14" r="5.95" stroke="none"/>
<circle cx="1470.55" cy="2056.14" r="5.95" stroke="none"/>
<circle cx="1483.04" cy="2056.14" r="5.95" stroke="none"/>
<circle cx="1490.06" cy="2056.14" r="5.95" stroke="none"/>
<circle cx="1572.8" cy="2056.14" r="5.95" stroke="none"/>
<circle cx="1579.83" cy="2056.14" r="5.95" stroke="none"/>
<circle cx="1610.27" cy="2056.14" r="5.95" stroke="none"/>
<circle cx="1635.25" cy="2056.14" r="5.95" stroke="none"/>
<circle cx="1645.4" cy="2056.14" r="5.95" stroke="none"/>
<circle cx="1657.89" cy="2056.14" r="5.95" stroke="none"/>
<circle cx="1671.16" cy="2056.14" r="5.95" stroke="none"/>
<circle cx="1678.97" cy="2056.14" r="5.95" stroke="none"/>
<circle cx="1690.67" cy="2056.14" r="5.95" stroke="none"/>
<circle cx="1720.34" cy="2056.14" r="5.95" stroke="none"/>
<circle cx="1732.05" cy="2056.14" r="5.95" stroke="none"/>
<circle cx="1757.81" cy="2056.14" r="5.95" stroke="none"/>
<circle cx="1771.08" cy="2056.14" r="5.95" stroke="none"/>
</g>
<g fill="#cd3e52" stroke="#cd3e52" stroke-width="11.9" stroke-linecap="round">
<circle cx="537.73" cy="2083.55" r="5.95" stroke="none"/>
<circle cx="548.66" cy="2083.55" r="5.95" stroke="none"/>
<circle cx="555.68" cy="2083.55" r="5.95" stroke="none"/>
<circle cx="568.17" cy="2083.55" r="5.95" stroke="none"/>
<circle cx="607.98" cy="2083.55" r="5.95" stroke="none"/>
<circle cx="618.13" cy="2083.55" r="5.95" stroke="none"/>
<circle cx="630.62" cy="2083.55" r="5.95" stroke="none"/>
<circle cx="637.65" cy="2083.55" r="5.95" stroke="none"/>
<line x1="693.85" x2="650.92" y1="2083.55" y2="2083.55"/>
<circle cx="708.68" cy="2083.55" r="5.95" stroke="none"/>
<circle cx="724.29" cy="2083.55" r="5.95" stroke="none"/>
<line x1="824.99" x2="734.44" y1="2083.55" y2="2083.55"/>
<circle cx="839.04" cy="2083.55" r="5.95" stroke="none"/>
<circle cx="849.19" cy="2083.55" r="5.95" stroke="none"/>
<circle cx="859.34" cy="2083.55" r="5.95" stroke="none"/>
<circle cx="866.36" cy="2083.55" r="5.95" stroke="none"/>
<circle cx="871.83" cy="2083.55" r="5.95" stroke="none"/>
<circle cx="885.1" cy="2083.55" r="5.95" stroke="none"/>
<line x1="1160.26" x2="899.15" y1="2083.55" y2="2083.55"/>
<line x1="1242.61" x2="1450.25" y1="2083.55" y2="2083.55"/>
<circle cx="1462.74" cy="2083.55" r="5.95" stroke="none"/>
<circle cx="1472.11" cy="2083.55" r="5.95" stroke="none"/>
<circle cx="1480.69" cy="2083.55" r="5.95" stroke="none"/>
<line x1="1491.62" x2="1539.24" y1="2083.55" y2="2083.55"/>
<line x1="1557.19" x2="1604.81" y1="2083.55" y2="2083.55"/>
<line x1="1617.3" x2="1658.67" y1="2083.55" y2="2083.55"/>
<circle cx="1671.94" cy="2083.55" r="5.95" stroke="none"/>
<circle cx="1685.99" cy="2083.55" r="5.95" stroke="none"/>
<circle cx="1696.92" cy="2083.55" r="5.95" stroke="none"/>
<circle cx="1706.29" cy="2083.55" r="5.95" stroke="none"/>
<circle cx="1718.78" cy="2083.55" r="5.95" stroke="none"/>
<circle cx="1725.8" cy="2083.55" r="5.95" stroke="none"/>
<circle cx="1733.61" cy="2083.55" r="5.95" stroke="none"/>
<circle cx="1740.63" cy="2083.55" r="5.95" stroke="none"/>
<circle cx="1778.1" cy="2083.55" r="5.95" stroke="none"/>
<circle cx="1818.69" cy="2083.55" r="5.95" stroke="none"/>
<circle cx="1825.72" cy="2083.55" r="5.95" stroke="none"/>
<circle cx="1870.99" cy="2083.55" r="5.95" stroke="none"/>
<circle cx="1885.82" cy="2083.55" r="5.95" stroke="none"/>
<circle cx="1895.97" cy="2083.55" r="5.95" stroke="none"/>
</g>
<g fill="#cd3e52" stroke="#cd3e52" stroke-width="11.9" stroke-linecap="round">
<circle cx="472.16" cy="2110.96" r="5.95" stroke="none"/>
<circle cx="489.33" cy="2110.96" r="5.95" stroke="none"/>
<circle cx="495.58" cy="2110.96" r="5.95" stroke="none"/>
<circle cx="515.87" cy="2110.96" r="5.95" stroke="none"/>
<circle cx="545.53" cy="2110.96" r="5.95" stroke="none"/>
<circle cx="562.71" cy="2110.96" r="5.95" stroke="none"/>
<circle cx="657.94" cy="2110.96" r="5.95" stroke="none"/>
<circle cx="744.59" cy="2110.96" r="5.95" stroke="none"/>
<circle cx="800.79" cy="2110.96" r="5.95" stroke="none"/>
<circle cx="830.45" cy="2110.96" r="5.95" stroke="none"/>
<circle cx="933.49" cy="2110.96" r="5.95" stroke="none"/>
<circle cx="944.42" cy="2110.96" r="5.95" stroke="none"/>
<line x1="1160.26" x2="953.79" y1="2110.96" y2="2110.96"/>
<line x1="1242.61" x2="1406.54" y1="2110.96" y2="2110.96"/>
<line x1="1417.46" x2="1466.64" y1="2110.96" y2="2110.96"/>
<circle cx="1476.79" cy="2110.96" r="5.95" stroke="none"/>
<circle cx="1491.62" cy="2110.96" r="5.95" stroke="none"/>
<circle cx="1498.65" cy="2110.96" r="5.95" stroke="none"/>
<circle cx="1517.38" cy="2110.96" r="5.95" stroke="none"/>
<circle cx="1525.19" cy="2110.96" r="5.95" stroke="none"/>
<circle cx="1532.99" cy="2110.96" r="5.95" stroke="none"/>
<circle cx="1540.8" cy="2110.96" r="5.95" stroke="none"/>
<circle cx="1553.29" cy="2110.96" r="5.95" stroke="none"/>
</g>
<g fill="#cd3e52" stroke="#cd3e52" stroke-width="11.9" stroke-linecap="round">
<circle cx="758.64" cy="2138.38" r="5.95" stroke="none"/>
<circle cx="810.16" cy="2138.38" r="5.95" stroke="none"/>
<circle cx="855.43" cy="2138.38" r="5.95" stroke="none"/>
<circle cx="1037.31" cy="2138.38" r="5.95" stroke="none"/>
<circle cx="1074.78" cy="2138.38" r="5.95" stroke="none"/>
<circle cx="1132.55" cy="2138.38" r="5.95" stroke="none"/>
<circle cx="1139.57" cy="2138.38" r="5.95" stroke="none"/>
<circle cx="1147.38" cy="2138.38" r="5.95" stroke="none"/>
<circle cx="1155.96" cy="2138.38" r="5.95" stroke="none"/>
<circle cx="1160.26" cy="2138.38" r="5.95" stroke="none"/>
<line x1="1242.61" x2="1301.16" y1="2138.38" y2="2138.38"/>
<line x1="1317.55" x2="1365.16" y1="2138.38" y2="2138.38"/>
<circle cx="1376.87" cy="2138.38" r="5.95" stroke="none"/>
<circle cx="1384.68" cy="2138.38" r="5.95" stroke="none"/>
<circle cx="1415.12" cy="2138.38" r="5.95" stroke="none"/>
<circle cx="1607.93" cy="2138.38" r="5.95" stroke="none"/>
<circle cx="1636.03" cy="2138.38" r="5.95" stroke="none"/>
<circle cx="1663.35" cy="2138.38" r="5.95" stroke="none"/>
</g>
<g fill="#cd3e52" stroke="#cd3e52" stroke-width="11.9" stroke-linecap="round">
<circle cx="647.79" cy="2165.79" r="5.95" stroke="none"/>
<circle cx="844.5" cy="2165.79" r="5.95" stroke="none"/>
<circle cx="852.31" cy="2165.79" r="5.95" stroke="none"/>
<circle cx="859.34" cy="2165.79" r="5.95" stroke="none"/>
<circle cx="885.1" cy="2165.79" r="5.95" stroke="none"/>
<circle cx="983.45" cy="2165.79" r="5.95" stroke="none"/>
<circle cx="1026.38" cy="2165.79" r="5.95" stroke="none"/>
<circle cx="1038.09" cy="2165.79" r="5.95" stroke="none"/>
<circle cx="1047.46" cy="2165.79" r="5.95" stroke="none"/>
<circle cx="1059.95" cy="2165.79" r="5.95" stroke="none"/>
<circle cx="1084.15" cy="2165.79" r="5.95" stroke="none"/>
<circle cx="1092.74" cy="2165.79" r="5.95" stroke="none"/>
<circle cx="1109.13" cy="2165.79" r="5.95" stroke="none"/>
<line x1="1160.26" x2="1120.06" y1="2165.79" y2="2165.79"/>
<line x1="1242.61" x2="1319.89" y1="2165.79" y2="2165.79"/>
<circle cx="1337.06" cy="2165.79" r="5.95" stroke="none"/>
<circle cx="1343.31" cy="2165.79" r="5.95" stroke="none"/>
<circle cx="1354.24" cy="2165.79" r="5.95" stroke="none"/>
<circle cx="1387.8" cy="2165.79" r="5.95" stroke="none"/>
<circle cx="1394.83" cy="2165.79" r="5.95" stroke="none"/>
<circle cx="1425.27" cy="2165.79" r="5.95" stroke="none"/>
<circle cx="1429.95" cy="2165.79" r="5.95" stroke="none"/>
<circle cx="1439.32" cy="2165.79" r="5.95" stroke="none"/>
<circle cx="1445.57" cy="2165.79" r="5.95" stroke="none"/>
<circle cx="1515.82" cy="2165.79" r="5.95" stroke="none"/>
<circle cx="1521.28" cy="2165.79" r="5.95" stroke="none"/>
<circle cx="1525.97" cy="2165.79" r="5.95" stroke="none"/>
<circle cx="1572.02" cy="2165.79" r="5.95" stroke="none"/>
<circle cx="1575.15" cy="2165.79" r="5.95" stroke="none"/>
<circle cx="1793.71" cy="2165.79" r="5.95" stroke="none"/>
</g>
<g fill="#cd3e52" stroke="#cd3e52" stroke-width="11.9" stroke-linecap="round">
<circle cx="692.29" cy="2193.2" r="5.95" stroke="none"/>
<circle cx="706.34" cy="2193.2" r="5.95" stroke="none"/>
<circle cx="1031.85" cy="2193.2" r="5.95" stroke="none"/>
<circle cx="1040.44" cy="2193.2" r="5.95" stroke="none"/>
<circle cx="1090.39" cy="2193.2" r="5.95" stroke="none"/>
<circle cx="1110.69" cy="2193.2" r="5.95" stroke="none"/>
<circle cx="1120.06" cy="2193.2" r="5.95" stroke="none"/>
<circle cx="1148.16" cy="2193.2" r="5.95" stroke="none"/>
<circle cx="1152.84" cy="2193.2" r="5.95" stroke="none"/>
<circle cx="1160.26" cy="2193.2" r="5.95" stroke="none"/>
<circle cx="1243.39" cy="2193.2" r="5.95" stroke="none"/>
<circle cx="1257.44" cy="2193.2" r="5.95" stroke="none"/>
<circle cx="1265.25" cy="2193.2" r="5.95" stroke="none"/>
<circle cx="1273.05" cy="2193.2" r="5.95" stroke="none"/>
<circle cx="1279.3" cy="2193.2" r="5.95" stroke="none"/>
<circle cx="1292.57" cy="2193.2" r="5.95" stroke="none"/>
<circle cx="1301.16" cy="2193.2" r="5.95" stroke="none"/>
<circle cx="1312.08" cy="2193.2" r="5.95" stroke="none"/>
<circle cx="1319.89" cy="2193.2" r="5.95" stroke="none"/>
<circle cx="1355.02" cy="2193.2" r="5.95" stroke="none"/>
<circle cx="1387.8" cy="2193.2" r="5.95" stroke="none"/>
<circle cx="1661.01" cy="2193.2" r="5.95" stroke="none"/>
<circle cx="1781.22" cy="2193.2" r="5.95" stroke="none"/>
</g>
<g fill="#cd3e52" stroke="#cd3e52" stroke-width="11.9" stroke-linecap="round">
<line x1="1242.61" x2="1319.89" y1="2220.61" y2="2220.61"/>
</g>
<g fill="#bababa" stroke="#bababa" stroke-width="11.9" stroke-linecap="round">
<circle cx="961.59" cy="2248.02" r="5.95" stroke="none"/>
<circle cx="1070.88" cy="2248.02" r="5.95" stroke="none"/>
<circle cx="1088.83" cy="2248.02" r="5.95" stroke="none"/>
<circle cx="1095.86" cy="2248.02" r="5.95" stroke="none"/>
<circle cx="1120.06" cy="2248.02" r="5.95" stroke="none"/>
<circle cx="1127.08" cy="2248.02" r="5.95" stroke="none"/>
<circle cx="1132.55" cy="2248.02" r="5.95" stroke="none"/>
<circle cx="1149.72" cy="2248.02" r="5.95" stroke="none"/>
<circle cx="1155.96" cy="2248.02" r="5.95" stroke="none"/>
<circle cx="1250.42" cy="2248.02" r="5.95" stroke="none"/>
<circle cx="1256.66" cy="2248.02" r="5.95" stroke="none"/>
<circle cx="1261.35" cy="2248.02" r="5.95" stroke="none"/>
<line x1="1277.74" x2="1333.94" y1="2248.02" y2="2248.02"/>
<circle cx="1382.34" cy="2248.02" r="5.95" stroke="none"/>
<circle cx="1417.46" cy="2248.02" r="5.95" stroke="none"/>
<circle cx="1452.59" cy="2248.02" r="5.95" stroke="none"/>
</g>
<g fill="#bababa" stroke="#bababa" stroke-width="11.9" stroke-linecap="round">
<circle cx="902.27" cy="2275.44" r="5.95" stroke="none"/>
<circle cx="932.71" cy="2275.44" r="5.95" stroke="none"/>
<circle cx="951.45" cy="2275.44" r="5.95" stroke="none"/>
<circle cx="990.48" cy="2275.44" r="5.95" stroke="none"/>
<circle cx="1039.65" cy="2275.44" r="5.95" stroke="none"/>
<circle cx="1053.71" cy="2275.44" r="5.95" stroke="none"/>
<circle cx="1077.9" cy="2275.44" r="5.95" stroke="none"/>
<circle cx="1081.81" cy="2275.44" r="5.95" stroke="none"/>
<circle cx="1101.32" cy="2275.44" r="5.95" stroke="none"/>
<circle cx="1106.79" cy="2275.44" r="5.95" stroke="none"/>
<circle cx="1136.45" cy="2275.44" r="5.95" stroke="none"/>
<circle cx="1143.47" cy="2275.44" r="5.95" stroke="none"/>
<circle cx="1149.72" cy="2275.44" r="5.95" stroke="none"/>
<circle cx="1154.4" cy="2275.44" r="5.95" stroke="none"/>
<circle cx="1247.29" cy="2275.44" r="5.95" stroke="none"/>
<circle cx="1282.42" cy="2275.44" r="5.95" stroke="none"/>
<circle cx="1297.25" cy="2275.44" r="5.95" stroke="none"/>
<circle cx="1322.23" cy="2275.44" r="5.95" stroke="none"/>
<circle cx="1330.04" cy="2275.44" r="5.95" stroke="none"/>
<circle cx="1362.04" cy="2275.44" r="5.95" stroke="none"/>
<circle cx="1375.31" cy="2275.44" r="5.95" stroke="none"/>
<circle cx="1415.12" cy="2275.44" r="5.95" stroke="none"/>
<circle cx="1429.95" cy="2275.44" r="5.95" stroke="none"/>
<circle cx="1435.42" cy="2275.44" r="5.95" stroke="none"/>
<circle cx="1450.25" cy="2275.44" r="5.95" stroke="none"/>
<circle cx="1455.71" cy="2275.44" r="5.95" stroke="none"/>
<circle cx="1663.35" cy="2275.44" r="5.95" stroke="none"/>
</g>
<g fill="#bababa" stroke="#bababa" stroke-width="11.9" stroke-linecap="round">
<circle cx="1081.81" cy="2302.85" r="5.95" stroke="none"/>
<circle cx="1143.47" cy="2302.85" r="5.95" stroke="none"/>
<circle cx="1149.72" cy="2302.85" r="5.95" stroke="none"/>
<circle cx="1155.96" cy="2302.85" r="5.95" stroke="none"/>
<circle cx="1160.26" cy="2302.85" r="5.95" stroke="none"/>
<line x1="1242.61" x2="1292.57" y1="2302.85" y2="2302.85"/>
<circle cx="1307.4" cy="2302.85" r="5.95" stroke="none"/>
</g>
<g fill="#8d3a9c" stroke="#8d3a9c" stroke-width="11.9" stroke-linecap="round">
<circle cx="467.47" cy="2330.26" r="5.95" stroke="none"/>
<circle cx="472.16" cy="2330.26" r="5.95" stroke="none"/>
<circle cx="490.89" cy="2330.26" r="5.95" stroke="none"/>
<circle cx="496.36" cy="2330.26" r="5.95" stroke="none"/>
<circle cx="501.82" cy="2330.26" r="5.95" stroke="none"/>
<circle cx="514.31" cy="2330.26" r="5.95" stroke="none"/>
<circle cx="521.34" cy="2330.26" r="5.95" stroke="none"/>
<circle cx="531.48" cy="2330.26" r="5.95" stroke="none"/>
<circle cx="536.95" cy="2330.26" r="5.95" stroke="none"/>
<line x1="632.18" x2="548.66" y1="2330.26" y2="2330.26"/>
<circle cx="642.33" cy="2330.26" r="5.95" stroke="none"/>
<circle cx="659.5" cy="2330.26" r="5.95" stroke="none"/>
<circle cx="666.53" cy="2330.26" r="5.95" stroke="none"/>
<circle cx="676.68" cy="2330.26" r="5.95" stroke="none"/>
<circle cx="687.6" cy="2330.26" r="5.95" stroke="none"/>
<circle cx="710.24" cy="2330.26" r="5.95" stroke="none"/>
<circle cx="725.85" cy="2330.26" r="5.95" stroke="none"/>
<circle cx="737.56" cy="2330.26" r="5.95" stroke="none"/>
<circle cx="744.59" cy="2330.26" r="5.95" stroke="none"/>
<circle cx="764.88" cy="2330.26" r="5.95" stroke="none"/>
<circle cx="773.47" cy="2330.26" r="5.95" stroke="none"/>
<circle cx="781.28" cy="2330.26" r="5.95" stroke="none"/>
<circle cx="787.52" cy="2330.26" r="5.95" stroke="none"/>
<circle cx="793.77" cy="2330.26" r="5.95" stroke="none"/>
<circle cx="802.35" cy="2330.26" r="5.95" stroke="none"/>
<circle cx="814.06" cy="2330.26" r="5.95" stroke="none"/>
<circle cx="840.6" cy="2330.26" r="5.95" stroke="none"/>
<circle cx="864.8" cy="2330.26" r="5.95" stroke="none"/>
<circle cx="871.04" cy="2330.26" r="5.95" stroke="none"/>
<circle cx="881.97" cy="2330.26" r="5.95" stroke="none"/>
<circle cx="890.56" cy="2330.26" r="5.95" stroke="none"/>
<line x1="960.81" x2="904.61" y1="2330.26" y2="2330.26"/>
<line x1="1160.26" x2="971.74" y1="2330.26" y2="2330.26"/>
<line x1="1242.61" x2="1476.01" y1="2330.26" y2="2330.26"/>
<circle cx="1493.18" cy="2330.26" r="5.95" stroke="none"/>
<circle cx="1500.21" cy="2330.26" r="5.95" stroke="none"/>
<circle cx="1507.23" cy="2330.26" r="5.95" stroke="none"/>
<circle cx="1513.48" cy="2330.26" r="5.95" stroke="none"/>
<circle cx="1518.94" cy="2330.26" r="5.95" stroke="none"/>
<circle cx="1544.7" cy="2330.26" r="5.95" stroke="none"/>
<circle cx="1550.17" cy="2330.26" r="5.95" stroke="none"/>
<circle cx="1562.66" cy="2330.26" r="5.95" stroke="none"/>
<circle cx="1569.68" cy="2330.26" r="5.95" stroke="none"/>
<circle cx="1577.49" cy="2330.26" r="5.95" stroke="none"/>
<circle cx="1585.29" cy="2330.26" r="5.95" stroke="none"/>
<circle cx="1593.1" cy="2330.26" r="5.95" stroke="none"/>
<circle cx="1597" cy="2330.26" r="5.95" stroke="none"/>
<circle cx="1620.42" cy="2330.26" r="5.95" stroke="none"/>
<circle cx="1629.01" cy="2330.26" r="5.95" stroke="none"/>
<line x1="1642.28" x2="1720.34" y1="2330.26" y2="2330.26"/>
<circle cx="1730.49" cy="2330.26" r="5.95" stroke="none"/>
<circle cx="1739.07" cy="2330.26" r="5.95" stroke="none"/>
<circle cx="1753.12" cy="2330.26" r="5.95" stroke="none"/>
<circle cx="1760.93" cy="2330.26" r="5.95" stroke="none"/>
<circle cx="1766.39" cy="2330.26" r="5.95" stroke="none"/>
<circle cx="1783.57" cy="2330.26" r="5.95" stroke="none"/>
<circle cx="1795.28" cy="2330.26" r="5.95" stroke="none"/>
<circle cx="1802.3" cy="2330.26" r="5.95" stroke="none"/>
<circle cx="1813.23" cy="2330.26" r="5.95" stroke="none"/>
<circle cx="1831.18" cy="2330.26" r="5.95" stroke="none"/>
<circle cx="1836.65" cy="2330.26" r="5.95" stroke="none"/>
<circle cx="1846.8" cy="2330.26" r="5.95" stroke="none"/>
<circle cx="1854.6" cy="2330.26" r="5.95" stroke="none"/>
<circle cx="1863.97" cy="2330.26" r="5.95" stroke="none"/>
<circle cx="1878.8" cy="2330.26" r="5.95" stroke="none"/>
<circle cx="1884.26" cy="2330.26" r="5.95" stroke="none"/>
<circle cx="1901.44" cy="2330.26" r="5.95" stroke="none"/>
<circle cx="1909.24" cy="2330.26" r="5.95" stroke="none"/>
<circle cx="1928.76" cy="2330.26" r="5.95" stroke="none"/>
<circle cx="1941.25" cy="2330.26" r="5.95" stroke="none"/>
<circle cx="1963.88" cy="2330.26" r="5.95" stroke="none"/>
</g>
<g fill="#edcb5f" stroke="#edcb5f" stroke-width="11.9" stroke-linecap="round">
<circle cx="605.64" cy="2357.67" r="5.95" stroke="none"/>
<circle cx="659.5" cy="2357.67" r="5.95" stroke="none"/>
<circle cx="677.46" cy="2357.67" r="5.95" stroke="none"/>
<circle cx="688.38" cy="2357.67" r="5.95" stroke="none"/>
<circle cx="703.22" cy="2357.67" r="5.95" stroke="none"/>
<circle cx="709.46" cy="2357.67" r="5.95" stroke="none"/>
<circle cx="719.61" cy="2357.67" r="5.95" stroke="none"/>
<circle cx="728.98" cy="2357.67" r="5.95" stroke="none"/>
<circle cx="750.05" cy="2357.67" r="5.95" stroke="none"/>
<circle cx="761.76" cy="2357.67" r="5.95" stroke="none"/>
<circle cx="799.23" cy="2357.67" r="5.95" stroke="none"/>
<circle cx="808.6" cy="2357.67" r="5.95" stroke="none"/>
<circle cx="814.06" cy="2357.67" r="5.95" stroke="none"/>
<circle cx="823.43" cy="2357.67" r="5.95" stroke="none"/>
<circle cx="839.04" cy="2357.67" r="5.95" stroke="none"/>
<circle cx="871.04" cy="2357.67" r="5.95" stroke="none"/>
<circle cx="931.15" cy="2357.67" r="5.95" stroke="none"/>
<circle cx="950.67" cy="2357.67" r="5.95" stroke="none"/>
<circle cx="982.67" cy="2357.67" r="5.95" stroke="none"/>
<circle cx="1000.62" cy="2357.67" r="5.95" stroke="none"/>
<circle cx="1008.43" cy="2357.67" r="5.95" stroke="none"/>
<line x1="1160.26" x2="1031.85" y1="2357.67" y2="2357.67"/>
<line x1="1242.61" x2="1422.93" y1="2357.67" y2="2357.67"/>
<circle cx="1434.64" cy="2357.67" r="5.95" stroke="none"/>
<circle cx="1467.42" cy="2357.67" r="5.95" stroke="none"/>
<circle cx="1502.55" cy="2357.67" r="5.95" stroke="none"/>
<circle cx="1527.53" cy="2357.67" r="5.95" stroke="none"/>
<circle cx="1591.54" cy="2357.67" r="5.95" stroke="none"/>
<circle cx="1610.27" cy="2357.67" r="5.95" stroke="none"/>
<circle cx="1630.57" cy="2357.67" r="5.95" stroke="none"/>
<circle cx="1647.74" cy="2357.67" r="5.95" stroke="none"/>
<circle cx="1661.01" cy="2357.67" r="5.95" stroke="none"/>
<circle cx="1666.48" cy="2357.67" r="5.95" stroke="none"/>
<circle cx="1671.16" cy="2357.67" r="5.95" stroke="none"/>
<circle cx="1685.99" cy="2357.67" r="5.95" stroke="none"/>
<circle cx="1698.48" cy="2357.67" r="5.95" stroke="none"/>
<circle cx="1712.53" cy="2357.67" r="5.95" stroke="none"/>
<circle cx="1718.78" cy="2357.67" r="5.95" stroke="none"/>
<circle cx="1734.39" cy="2357.67" r="5.95" stroke="none"/>
<circle cx="1751.56" cy="2357.67" r="5.95" stroke="none"/>
<circle cx="1758.59" cy="2357.67" r="5.95" stroke="none"/>
<circle cx="1766.39" cy="2357.67" r="5.95" stroke="none"/>
<circle cx="1774.98" cy="2357.67" r="5.95" stroke="none"/>
<circle cx="1791.37" cy="2357.67" r="5.95" stroke="none"/>
</g>
<g fill="#edcb5f" stroke="#edcb5f" stroke-width="11.9" stroke-linecap="round">
<circle cx="910.86" cy="2385.08" r="5.95" stroke="none"/>
<circle cx="931.93" cy="2385.08" r="5.95" stroke="none"/>
<circle cx="945.98" cy="2385.08" r="5.95" stroke="none"/>
<circle cx="964.72" cy="2385.08" r="5.95" stroke="none"/>
<circle cx="970.18" cy="2385.08" r="5.95" stroke="none"/>
<circle cx="978.77" cy="2385.08" r="5.95" stroke="none"/>
<circle cx="986.57" cy="2385.08" r="5.95" stroke="none"/>
<circle cx="1021.7" cy="2385.08" r="5.95" stroke="none"/>
<circle cx="1028.73" cy="2385.08" r="5.95" stroke="none"/>
<circle cx="1038.09" cy="2385.08" r="5.95" stroke="none"/>
<circle cx="1045.12" cy="2385.08" r="5.95" stroke="none"/>
<circle cx="1050.58" cy="2385.08" r="5.95" stroke="none"/>
<line x1="1160.26" x2="1065.41" y1="2385.08" y2="2385.08"/>
<line x1="1242.61" x2="1366.73" y1="2385.08" y2="2385.08"/>
<circle cx="1395.61" cy="2385.08" r="5.95" stroke="none"/>
<circle cx="1402.63" cy="2385.08" r="5.95" stroke="none"/>
<circle cx="1412" cy="2385.08" r="5.95" stroke="none"/>
<circle cx="1417.46" cy="2385.08" r="5.95" stroke="none"/>
<circle cx="1460.4" cy="2385.08" r="5.95" stroke="none"/>
<circle cx="1469.77" cy="2385.08" r="5.95" stroke="none"/>
<circle cx="1487.72" cy="2385.08" r="5.95" stroke="none"/>
<circle cx="1520.5" cy="2385.08" r="5.95" stroke="none"/>
<circle cx="1529.87" cy="2385.08" r="5.95" stroke="none"/>
<circle cx="1555.63" cy="2385.08" r="5.95" stroke="none"/>
<circle cx="1572.8" cy="2385.08" r="5.95" stroke="none"/>
<circle cx="1597.78" cy="2385.08" r="5.95" stroke="none"/>
<circle cx="1618.08" cy="2385.08" r="5.95" stroke="none"/>
<circle cx="1657.89" cy="2385.08" r="5.95" stroke="none"/>
</g>
<g fill="#edcb5f" stroke="#edcb5f" stroke-width="11.9" stroke-linecap="round">
<line x1="1242.61" x2="1266.81" y1="2412.5" y2="2412.5"/>
<circle cx="1276.96" cy="2412.5" r="5.95" stroke="none"/>
<circle cx="1282.42" cy="2412.5" r="5.95" stroke="none"/>
<circle cx="1319.89" cy="2412.5" r="5.95" stroke="none"/>
</g>
<g fill="#cd3e52" stroke="#cd3e52" stroke-width="11.9" stroke-linecap="round">
<circle cx="921" cy="2439.91" r="5.95" stroke="none"/>
<circle cx="1032.63" cy="2439.91" r="5.95" stroke="none"/>
<circle cx="1048.24" cy="2439.91" r="5.95" stroke="none"/>
<circle cx="1053.71" cy="2439.91" r="5.95" stroke="none"/>
<circle cx="1074" cy="2439.91" r="5.95" stroke="none"/>
<circle cx="1092.74" cy="2439.91" r="5.95" stroke="none"/>
<circle cx="1099.76" cy="2439.91" r="5.95" stroke="none"/>
<circle cx="1106.79" cy="2439.91" r="5.95" stroke="none"/>
<circle cx="1127.86" cy="2439.91" r="5.95" stroke="none"/>
<circle cx="1141.91" cy="2439.91" r="5.95" stroke="none"/>
<circle cx="1150.5" cy="2439.91" r="5.95" stroke="none"/>
<circle cx="1158.31" cy="2439.91" r="5.95" stroke="none"/>
<circle cx="1245.73" cy="2439.91" r="5.95" stroke="none"/>
<circle cx="1265.25" cy="2439.91" r="5.95" stroke="none"/>
<circle cx="1273.83" cy="2439.91" r="5.95" stroke="none"/>
<circle cx="1282.42" cy="2439.91" r="5.95" stroke="none"/>
<circle cx="1294.13" cy="2439.91" r="5.95" stroke="none"/>
<circle cx="1299.59" cy="2439.91" r="5.95" stroke="none"/>
<circle cx="1351.89" cy="2439.91" r="5.95" stroke="none"/>
<circle cx="1369.85" cy="2439.91" r="5.95" stroke="none"/>
<circle cx="1432.3" cy="2439.91" r="5.95" stroke="none"/>
<circle cx="1452.59" cy="2439.91" r="5.95" stroke="none"/>
<circle cx="1469.77" cy="2439.91" r="5.95" stroke="none"/>
<circle cx="1502.55" cy="2439.91" r="5.95" stroke="none"/>
</g>
<g fill="#bababa" stroke="#bababa" stroke-width="11.9" stroke-linecap="round">
<circle cx="904.61" cy="2467.32" r="5.95" stroke="none"/>
<circle cx="947.54" cy="2467.32" r="5.95" stroke="none"/>
<circle cx="982.67" cy="2467.32" r="5.95" stroke="none"/>
<circle cx="990.48" cy="2467.32" r="5.95" stroke="none"/>
<circle cx="1005.31" cy="2467.32" r="5.95" stroke="none"/>
<circle cx="1016.24" cy="2467.32" r="5.95" stroke="none"/>
<circle cx="1020.92" cy="2467.32" r="5.95" stroke="none"/>
<circle cx="1034.19" cy="2467.32" r="5.95" stroke="none"/>
<circle cx="1042" cy="2467.32" r="5.95" stroke="none"/>
<circle cx="1045.12" cy="2467.32" r="5.95" stroke="none"/>
<circle cx="1061.51" cy="2467.32" r="5.95" stroke="none"/>
<circle cx="1074" cy="2467.32" r="5.95" stroke="none"/>
<circle cx="1090.39" cy="2467.32" r="5.95" stroke="none"/>
<circle cx="1098.2" cy="2467.32" r="5.95" stroke="none"/>
<line x1="1160.26" x2="1125.52" y1="2467.32" y2="2467.32"/>
<line x1="1242.61" x2="1295.69" y1="2467.32" y2="2467.32"/>
<circle cx="1319.89" cy="2467.32" r="5.95" stroke="none"/>
<circle cx="1327.7" cy="2467.32" r="5.95" stroke="none"/>
<circle cx="1333.94" cy="2467.32" r="5.95" stroke="none"/>
<circle cx="1339.4" cy="2467.32" r="5.95" stroke="none"/>
<circle cx="1362.82" cy="2467.32" r="5.95" stroke="none"/>
<circle cx="1370.63" cy="2467.32" r="5.95" stroke="none"/>
<circle cx="1377.65" cy="2467.32" r="5.95" stroke="none"/>
<circle cx="1390.14" cy="2467.32" r="5.95" stroke="none"/>
<circle cx="1397.95" cy="2467.32" r="5.95" stroke="none"/>
<circle cx="1418.25" cy="2467.32" r="5.95" stroke="none"/>
<circle cx="1450.25" cy="2467.32" r="5.95" stroke="none"/>
<circle cx="1457.28" cy="2467.32" r="5.95" stroke="none"/>
<circle cx="1476.79" cy="2467.32" r="5.95" stroke="none"/>
<circle cx="1480.69" cy="2467.32" r="5.95" stroke="none"/>
<circle cx="1495.53" cy="2467.32" r="5.95" stroke="none"/>
</g>
<g fill="#bababa" stroke="#bababa" stroke-width="11.9" stroke-linecap="round">
<circle cx="822.65" cy="2494.73" r="5.95" stroke="none"/>
<circle cx="830.45" cy="2494.73" r="5.95" stroke="none"/>
<circle cx="970.96" cy="2494.73" r="5.95" stroke="none"/>
<circle cx="974.08" cy="2494.73" r="5.95" stroke="none"/>
<circle cx="1018.58" cy="2494.73" r="5.95" stroke="none"/>
<circle cx="1027.16" cy="2494.73" r="5.95" stroke="none"/>
<circle cx="1043.56" cy="2494.73" r="5.95" stroke="none"/>
<circle cx="1067.76" cy="2494.73" r="5.95" stroke="none"/>
<circle cx="1074.78" cy="2494.73" r="5.95" stroke="none"/>
<circle cx="1108.35" cy="2494.73" r="5.95" stroke="none"/>
<line x1="1160.26" x2="1123.18" y1="2494.73" y2="2494.73"/>
<circle cx="1242.61" cy="2494.73" r="5.95" stroke="none"/>
<circle cx="1249.64" cy="2494.73" r="5.95" stroke="none"/>
<circle cx="1257.44" cy="2494.73" r="5.95" stroke="none"/>
<circle cx="1261.35" cy="2494.73" r="5.95" stroke="none"/>
<circle cx="1272.27" cy="2494.73" r="5.95" stroke="none"/>
<circle cx="1289.45" cy="2494.73" r="5.95" stroke="none"/>
<circle cx="1298.03" cy="2494.73" r="5.95" stroke="none"/>
<circle cx="1315.21" cy="2494.73" r="5.95" stroke="none"/>
<circle cx="1321.45" cy="2494.73" r="5.95" stroke="none"/>
<circle cx="1333.94" cy="2494.73" r="5.95" stroke="none"/>
<circle cx="1340.97" cy="2494.73" r="5.95" stroke="none"/>
<circle cx="1348.77" cy="2494.73" r="5.95" stroke="none"/>
<circle cx="1357.36" cy="2494.73" r="5.95" stroke="none"/>
<circle cx="1362.82" cy="2494.73" r="5.95" stroke="none"/>
<circle cx="1368.29" cy="2494.73" r="5.95" stroke="none"/>
<circle cx="1390.14" cy="2494.73" r="5.95" stroke="none"/>
<circle cx="1400.29" cy="2494.73" r="5.95" stroke="none"/>
<circle cx="1425.27" cy="2494.73" r="5.95" stroke="none"/>
<circle cx="1452.59" cy="2494.73" r="5.95" stroke="none"/>
<circle cx="1472.89" cy="2494.73" r="5.95" stroke="none"/>
<circle cx="1515.82" cy="2494.73" r="5.95" stroke="none"/>
<circle cx="1620.42" cy="2494.73" r="5.95" stroke="none"/>
<circle cx="1673.5" cy="2494.73" r="5.95" stroke="none"/>
</g>
<g fill="#bababa" stroke="#bababa" stroke-width="11.9" stroke-linecap="round">
<circle cx="781.28" cy="2522.14" r="5.95" stroke="none"/>
<circle cx="963.16" cy="2522.14" r="5.95" stroke="none"/>
<circle cx="968.62" cy="2522.14" r="5.95" stroke="none"/>
<circle cx="1017.8" cy="2522.14" r="5.95" stroke="none"/>
<circle cx="1024.82" cy="2522.14" r="5.95" stroke="none"/>
<circle cx="1055.27" cy="2522.14" r="5.95" stroke="none"/>
<circle cx="1064.63" cy="2522.14" r="5.95" stroke="none"/>
<circle cx="1077.12" cy="2522.14" r="5.95" stroke="none"/>
<circle cx="1123.18" cy="2522.14" r="5.95" stroke="none"/>
<circle cx="1130.98" cy="2522.14" r="5.95" stroke="none"/>
<circle cx="1138.01" cy="2522.14" r="5.95" stroke="none"/>
<circle cx="1150.5" cy="2522.14" r="5.95" stroke="none"/>
<circle cx="1155.96" cy="2522.14" r="5.95" stroke="none"/>
<circle cx="1160.26" cy="2522.14" r="5.95" stroke="none"/>
</g>
<g fill="#4a9e78" stroke="#4a9e78" stroke-width="11.9" stroke-linecap="round">
<circle cx="420.64" cy="2549.56" r="5.95" stroke="none"/>
<circle cx="429.23" cy="2549.56" r="5.95" stroke="none"/>
<circle cx="434.69" cy="2549.56" r="5.95" stroke="none"/>
<circle cx="438.59" cy="2549.56" r="5.95" stroke="none"/>
<circle cx="450.3" cy="2549.56" r="5.95" stroke="none"/>
<circle cx="472.94" cy="2549.56" r="5.95" stroke="none"/>
<circle cx="484.65" cy="2549.56" r="5.95" stroke="none"/>
<circle cx="498.7" cy="2549.56" r="5.95" stroke="none"/>
<circle cx="537.73" cy="2549.56" r="5.95" stroke="none"/>
<circle cx="586.91" cy="2549.56" r="5.95" stroke="none"/>
<circle cx="634.52" cy="2549.56" r="5.95" stroke="none"/>
<circle cx="657.16" cy="2549.56" r="5.95" stroke="none"/>
<circle cx="668.87" cy="2549.56" r="5.95" stroke="none"/>
<circle cx="677.46" cy="2549.56" r="5.95" stroke="none"/>
<circle cx="686.04" cy="2549.56" r="5.95" stroke="none"/>
<circle cx="696.97" cy="2549.56" r="5.95" stroke="none"/>
<circle cx="707.12" cy="2549.56" r="5.95" stroke="none"/>
<circle cx="710.24" cy="2549.56" r="5.95" stroke="none"/>
<circle cx="729.76" cy="2549.56" r="5.95" stroke="none"/>
<circle cx="740.68" cy="2549.56" r="5.95" stroke="none"/>
<circle cx="759.42" cy="2549.56" r="5.95" stroke="none"/>
<circle cx="766.44" cy="2549.56" r="5.95" stroke="none"/>
<circle cx="780.5" cy="2549.56" r="5.95" stroke="none"/>
<line x1="941.3" x2="793.77" y1="2549.56" y2="2549.56"/>
<circle cx="950.67" cy="2549.56" r="5.95" stroke="none"/>
<circle cx="960.03" cy="2549.56" r="5.95" stroke="none"/>
<line x1="1160.26" x2="975.65" y1="2549.56" y2="2549.56"/>
<line x1="1242.61" x2="1401.07" y1="2549.56" y2="2549.56"/>
<circle cx="1412" cy="2549.56" r="5.95" stroke="none"/>
<circle cx="1419.03" cy="2549.56" r="5.95" stroke="none"/>
<circle cx="1424.49" cy="2549.56" r="5.95" stroke="none"/>
<circle cx="1443.22" cy="2549.56" r="5.95" stroke="none"/>
<circle cx="1454.15" cy="2549.56" r="5.95" stroke="none"/>
<circle cx="1461.18" cy="2549.56" r="5.95" stroke="none"/>
<circle cx="1468.2" cy="2549.56" r="5.95" stroke="none"/>
<circle cx="1474.45" cy="2549.56" r="5.95" stroke="none"/>
<circle cx="1493.96" cy="2549.56" r="5.95" stroke="none"/>
<circle cx="1510.36" cy="2549.56" r="5.95" stroke="none"/>
<circle cx="1520.5" cy="2549.56" r="5.95" stroke="none"/>
<line x1="1533.77" x2="1611.83" y1="2549.56" y2="2549.56"/>
<circle cx="1620.42" cy="2549.56" r="5.95" stroke="none"/>
<circle cx="1631.35" cy="2549.56" r="5.95" stroke="none"/>
<circle cx="1639.16" cy="2549.56" r="5.95" stroke="none"/>
<circle cx="1646.96" cy="2549.56" r="5.95" stroke="none"/>
<circle cx="1653.21" cy="2549.56" r="5.95" stroke="none"/>
<circle cx="1658.67" cy="2549.56" r="5.95" stroke="none"/>
<circle cx="1672.72" cy="2549.56" r="5.95" stroke="none"/>
<circle cx="1680.53" cy="2549.56" r="5.95" stroke="none"/>
<circle cx="1693.02" cy="2549.56" r="5.95" stroke="none"/>
<circle cx="1705.51" cy="2549.56" r="5.95" stroke="none"/>
<circle cx="1722.68" cy="2549.56" r="5.95" stroke="none"/>
<circle cx="1733.61" cy="2549.56" r="5.95" stroke="none"/>
<circle cx="1753.12" cy="2549.56" r="5.95" stroke="none"/>
<circle cx="1765.61" cy="2549.56" r="5.95" stroke="none"/>
<circle cx="1790.59" cy="2549.56" r="5.95" stroke="none"/>
<circle cx="1802.3" cy="2549.56" r="5.95" stroke="none"/>
<circle cx="1810.89" cy="2549.56" r="5.95" stroke="none"/>
<circle cx="1823.38" cy="2549.56" r="5.95" stroke="none"/>
<circle cx="1835.87" cy="2549.56" r="5.95" stroke="none"/>
<circle cx="1866.31" cy="2549.56" r="5.95" stroke="none"/>
<circle cx="1892.07" cy="2549.56" r="5.95" stroke="none"/>
<circle cx="1896.75" cy="2549.56" r="5.95" stroke="none"/>
<circle cx="1935.78" cy="2549.56" r="5.95" stroke="none"/>
<circle cx="1952.96" cy="2549.56" r="5.95" stroke="none"/>
<circle cx="1959.2" cy="2549.56" r="5.95" stroke="none"/>
<circle cx="1970.91" cy="2549.56" r="5.95" stroke="none"/>
<circle cx="1976.37" cy="2549.56" r="5.95" stroke="none"/>
<circle cx="1981.84" cy="2549.56" r="5.95" stroke="none"/>
</g>
<g fill="#4a9e78" stroke="#4a9e78" stroke-width="11.9" stroke-linecap="round">
<circle cx="432.35" cy="2576.97" r="5.95" stroke="none"/>
<circle cx="438.59" cy="2576.97" r="5.95" stroke="none"/>
<circle cx="465.91" cy="2576.97" r="5.95" stroke="none"/>
<circle cx="523.68" cy="2576.97" r="5.95" stroke="none"/>
<circle cx="533.83" cy="2576.97" r="5.95" stroke="none"/>
<circle cx="545.53" cy="2576.97" r="5.95" stroke="none"/>
<circle cx="600.96" cy="2576.97" r="5.95" stroke="none"/>
<circle cx="611.11" cy="2576.97" r="5.95" stroke="none"/>
<circle cx="640.77" cy="2576.97" r="5.95" stroke="none"/>
<circle cx="675.89" cy="2576.97" r="5.95" stroke="none"/>
<circle cx="723.51" cy="2576.97" r="5.95" stroke="none"/>
<circle cx="743.81" cy="2576.97" r="5.95" stroke="none"/>
<circle cx="765.66" cy="2576.97" r="5.95" stroke="none"/>
<circle cx="782.84" cy="2576.97" r="5.95" stroke="none"/>
<circle cx="788.3" cy="2576.97" r="5.95" stroke="none"/>
<circle cx="808.6" cy="2576.97" r="5.95" stroke="none"/>
<circle cx="817.18" cy="2576.97" r="5.95" stroke="none"/>
<circle cx="837.48" cy="2576.97" r="5.95" stroke="none"/>
<circle cx="848.41" cy="2576.97" r="5.95" stroke="none"/>
<circle cx="853.87" cy="2576.97" r="5.95" stroke="none"/>
<circle cx="866.36" cy="2576.97" r="5.95" stroke="none"/>
<circle cx="878.85" cy="2576.97" r="5.95" stroke="none"/>
<circle cx="904.61" cy="2576.97" r="5.95" stroke="none"/>
<circle cx="911.64" cy="2576.97" r="5.95" stroke="none"/>
<circle cx="919.44" cy="2576.97" r="5.95" stroke="none"/>
<circle cx="931.15" cy="2576.97" r="5.95" stroke="none"/>
<circle cx="942.86" cy="2576.97" r="5.95" stroke="none"/>
<circle cx="954.57" cy="2576.97" r="5.95" stroke="none"/>
<circle cx="966.28" cy="2576.97" r="5.95" stroke="none"/>
<circle cx="980.33" cy="2576.97" r="5.95" stroke="none"/>
<circle cx="993.6" cy="2576.97" r="5.95" stroke="none"/>
<circle cx="1002.97" cy="2576.97" r="5.95" stroke="none"/>
<circle cx="1009.99" cy="2576.97" r="5.95" stroke="none"/>
<circle cx="1021.7" cy="2576.97" r="5.95" stroke="none"/>
<circle cx="1038.87" cy="2576.97" r="5.95" stroke="none"/>
<circle cx="1056.05" cy="2576.97" r="5.95" stroke="none"/>
<circle cx="1092.74" cy="2576.97" r="5.95" stroke="none"/>
<circle cx="1108.35" cy="2576.97" r="5.95" stroke="none"/>
<circle cx="1116.93" cy="2576.97" r="5.95" stroke="none"/>
<line x1="1155.96" x2="1128.64" y1="2576.97" y2="2576.97"/>
<line x1="1248.07" x2="1305.06" y1="2576.97" y2="2576.97"/>
<circle cx="1321.45" cy="2576.97" r="5.95" stroke="none"/>
<circle cx="1328.48" cy="2576.97" r="5.95" stroke="none"/>
<circle cx="1347.21" cy="2576.97" r="5.95" stroke="none"/>
<circle cx="1359.7" cy="2576.97" r="5.95" stroke="none"/>
<circle cx="1405.76" cy="2576.97" r="5.95" stroke="none"/>
<circle cx="1417.46" cy="2576.97" r="5.95" stroke="none"/>
<circle cx="1428.39" cy="2576.97" r="5.95" stroke="none"/>
<circle cx="1447.91" cy="2576.97" r="5.95" stroke="none"/>
<circle cx="1483.04" cy="2576.97" r="5.95" stroke="none"/>
<circle cx="1490.06" cy="2576.97" r="5.95" stroke="none"/>
<circle cx="1497.09" cy="2576.97" r="5.95" stroke="none"/>
<circle cx="1504.11" cy="2576.97" r="5.95" stroke="none"/>
<circle cx="1510.36" cy="2576.97" r="5.95" stroke="none"/>
<circle cx="1515.82" cy="2576.97" r="5.95" stroke="none"/>
<circle cx="1526.75" cy="2576.97" r="5.95" stroke="none"/>
<circle cx="1533.77" cy="2576.97" r="5.95" stroke="none"/>
<circle cx="1540.8" cy="2576.97" r="5.95" stroke="none"/>
<circle cx="1544.7" cy="2576.97" r="5.95" stroke="none"/>
<circle cx="1557.19" cy="2576.97" r="5.95" stroke="none"/>
<circle cx="1561.1" cy="2576.97" r="5.95" stroke="none"/>
<circle cx="1587.64" cy="2576.97" r="5.95" stroke="none"/>
<circle cx="1612.62" cy="2576.97" r="5.95" stroke="none"/>
<circle cx="1662.57" cy="2576.97" r="5.95" stroke="none"/>
<circle cx="1672.72" cy="2576.97" r="5.95" stroke="none"/>
<circle cx="1695.36" cy="2576.97" r="5.95" stroke="none"/>
<circle cx="1701.6" cy="2576.97" r="5.95" stroke="none"/>
<circle cx="1735.17" cy="2576.97" r="5.95" stroke="none"/>
<circle cx="1739.85" cy="2576.97" r="5.95" stroke="none"/>
<circle cx="1758.59" cy="2576.97" r="5.95" stroke="none"/>
<circle cx="1782.79" cy="2576.97" r="5.95" stroke="none"/>
<circle cx="1815.57" cy="2576.97" r="5.95" stroke="none"/>
<circle cx="1828.84" cy="2576.97" r="5.95" stroke="none"/>
<circle cx="1880.36" cy="2576.97" r="5.95" stroke="none"/>
<circle cx="1891.29" cy="2576.97" r="5.95" stroke="none"/>
<circle cx="1920.95" cy="2576.97" r="5.95" stroke="none"/>
<circle cx="1963.88" cy="2576.97" r="5.95" stroke="none"/>
<circle cx="1983.4" cy="2576.97" r="5.95" stroke="none"/>
</g>
<g fill="#bababa" stroke="#bababa" stroke-width="11.9" stroke-linecap="round">
<circle cx="1043.56" cy="2604.38" r="5.95" stroke="none"/>
<circle cx="1059.17" cy="2604.38" r="5.95" stroke="none"/>
<circle cx="1104.44" cy="2604.38" r="5.95" stroke="none"/>
<circle cx="1116.93" cy="2604.38" r="5.95" stroke="none"/>
<line x1="1160.26" x2="1139.57" y1="2604.38" y2="2604.38"/>
</g>
<rect x="353.3" y="1498.5" width="308.4" height="213.5" fill="#fff"/>
<circle cx="374.2" cy="1521.4" r="16.9" fill="#de9ed5"/>
<text x="403.6" y="1529.7" font-size="21.7" fill="#000">Adenoviruses</text>
<circle cx="374.2" cy="1555.4" r="16.9" fill="#cd3e52"/>
<text x="403.6" y="1561.9" font-size="21.7" fill="#000">Herpesviruses</text>
<circle cx="374.2" cy="1589.3" r="16.9" fill="#edcb5f"/>
<text x="403.6" y="1598.9" font-size="21.7" fill="#000">Influenza viruses</text>
<circle cx="374.2" cy="1623.1" r="16.9" fill="#4a9e78"/>
<text x="403.6" y="1631.0" font-size="21.7" fill="#000">Picornaviruses</text>
<circle cx="374.2" cy="1657.2" r="16.9" fill="#8d3a9c"/>
<text x="403.6" y="1663.2" font-size="21.7" fill="#000">Respiratory syncytial virus</text>
<circle cx="374.2" cy="1691.5" r="16.9" fill="#bababa"/>
<text x="403.6" y="1700.0" font-size="21.7" fill="#000">Others</text>
<rect x="343.15" y="1491.85" width="1718.25" height="1128.05" fill="none" stroke="#222222" stroke-width="2"/>
<line x1="336" x2="342.15" y1="1507.9" y2="1507.9" stroke="#222222" stroke-width="3"/>
<text x="325.2" y="1515.6" text-anchor="end" font-size="21.7" fill="#4d4d4d">Aichivirus A</text>
<line x1="336" x2="342.15" y1="1535.31" y2="1535.31" stroke="#222222" stroke-width="3"/>
<text x="325.2" y="1543.01" text-anchor="end" font-size="21.7" fill="#4d4d4d">Alphapapillomavirus 9</text>
<line x1="336" x2="342.15" y1="1562.72" y2="1562.72" stroke="#222222" stroke-width="3"/>
<text x="325.2" y="1570.42" text-anchor="end" font-size="21.7" fill="#4d4d4d">Betapapillomavirus 1</text>
<line x1="336" x2="342.15" y1="1590.14" y2="1590.14" stroke="#222222" stroke-width="3"/>
<text x="325.2" y="1597.84" text-anchor="end" font-size="21.7" fill="#4d4d4d">Betapapillomavirus 2</text>
<line x1="336" x2="342.15" y1="1617.55" y2="1617.55" stroke="#222222" stroke-width="3"/>
<text x="325.2" y="1625.25" text-anchor="end" font-size="21.7" fill="#4d4d4d">Chikungunya virus</text>
<line x1="336" x2="342.15" y1="1644.96" y2="1644.96" stroke="#222222" stroke-width="3"/>
<text x="325.2" y="1652.66" text-anchor="end" font-size="21.7" fill="#4d4d4d">Cosavirus A</text>
<line x1="336" x2="342.15" y1="1672.37" y2="1672.37" stroke="#222222" stroke-width="3"/>
<text x="325.2" y="1680.07" text-anchor="end" font-size="21.7" fill="#4d4d4d">Dengue virus</text>
<line x1="336" x2="342.15" y1="1699.78" y2="1699.78" stroke="#222222" stroke-width="3"/>
<text x="325.2" y="1707.48" text-anchor="end" font-size="21.7" fill="#4d4d4d">Enterovirus A</text>
<line x1="336" x2="342.15" y1="1727.2" y2="1727.2" stroke="#222222" stroke-width="3"/>
<text x="325.2" y="1734.9" text-anchor="end" font-size="21.7" fill="#4d4d4d">Enterovirus B</text>
<line x1="336" x2="342.15" y1="1754.61" y2="1754.61" stroke="#222222" stroke-width="3"/>
<text x="325.2" y="1762.31" text-anchor="end" font-size="21.7" fill="#4d4d4d">Enterovirus C</text>
<line x1="336" x2="342.15" y1="1782.02" y2="1782.02" stroke="#222222" stroke-width="3"/>
<text x="325.2" y="1789.72" text-anchor="end" font-size="21.7" fill="#4d4d4d">Enterovirus D</text>
<line x1="336" x2="342.15" y1="1809.43" y2="1809.43" stroke="#222222" stroke-width="3"/>
<text x="325.2" y="1817.13" text-anchor="end" font-size="21.7" fill="#4d4d4d">Human adenovirus A</text>
<line x1="336" x2="342.15" y1="1836.84" y2="1836.84" stroke="#222222" stroke-width="3"/>
<text x="325.2" y="1844.54" text-anchor="end" font-size="21.7" fill="#4d4d4d">Human adenovirus B</text>
<line x1="336" x2="342.15" y1="1864.26" y2="1864.26" stroke="#222222" stroke-width="3"/>
<text x="325.2" y="1871.96" text-anchor="end" font-size="21.7" fill="#4d4d4d">Human adenovirus C</text>
<line x1="336" x2="342.15" y1="1891.67" y2="1891.67" stroke="#222222" stroke-width="3"/>
<text x="325.2" y="1899.37" text-anchor="end" font-size="21.7" fill="#4d4d4d">Human adenovirus D</text>
<line x1="336" x2="342.15" y1="1919.08" y2="1919.08" stroke="#222222" stroke-width="3"/>
<text x="325.2" y="1926.78" text-anchor="end" font-size="21.7" fill="#4d4d4d">Human adenovirus E</text>
<line x1="336" x2="342.15" y1="1946.49" y2="1946.49" stroke="#222222" stroke-width="3"/>
<text x="325.2" y="1954.19" text-anchor="end" font-size="21.7" fill="#4d4d4d">Human adenovirus F</text>
<line x1="336" x2="342.15" y1="1973.9" y2="1973.9" stroke="#222222" stroke-width="3"/>
<text x="325.2" y="1981.6" text-anchor="end" font-size="21.7" fill="#4d4d4d">Human coronavirus HKU1</text>
<line x1="336" x2="342.15" y1="2001.32" y2="2001.32" stroke="#222222" stroke-width="3"/>
<text x="325.2" y="2009.02" text-anchor="end" font-size="21.7" fill="#4d4d4d">Human herpesvirus 1</text>
<line x1="336" x2="342.15" y1="2028.73" y2="2028.73" stroke="#222222" stroke-width="3"/>
<text x="325.2" y="2036.43" text-anchor="end" font-size="21.7" fill="#4d4d4d">Human herpesvirus 2</text>
<line x1="336" x2="342.15" y1="2056.14" y2="2056.14" stroke="#222222" stroke-width="3"/>
<text x="325.2" y="2063.84" text-anchor="end" font-size="21.7" fill="#4d4d4d">Human herpesvirus 3</text>
<line x1="336" x2="342.15" y1="2083.55" y2="2083.55" stroke="#222222" stroke-width="3"/>
<text x="325.2" y="2091.25" text-anchor="end" font-size="21.7" fill="#4d4d4d">Human herpesvirus 4</text>
<line x1="336" x2="342.15" y1="2110.96" y2="2110.96" stroke="#222222" stroke-width="3"/>
<text x="325.2" y="2118.66" text-anchor="end" font-size="21.7" fill="#4d4d4d">Human herpesvirus 5</text>
<line x1="336" x2="342.15" y1="2138.38" y2="2138.38" stroke="#222222" stroke-width="3"/>
<text x="325.2" y="2146.08" text-anchor="end" font-size="21.7" fill="#4d4d4d">Human herpesvirus 6A</text>
<line x1="336" x2="342.15" y1="2165.79" y2="2165.79" stroke="#222222" stroke-width="3"/>
<text x="325.2" y="2173.49" text-anchor="end" font-size="21.7" fill="#4d4d4d">Human herpesvirus 6B</text>
<line x1="336" x2="342.15" y1="2193.2" y2="2193.2" stroke="#222222" stroke-width="3"/>
<text x="325.2" y="2200.9" text-anchor="end" font-size="21.7" fill="#4d4d4d">Human herpesvirus 7</text>
<line x1="336" x2="342.15" y1="2220.61" y2="2220.61" stroke="#222222" stroke-width="3"/>
<text x="325.2" y="2228.31" text-anchor="end" font-size="21.7" fill="#4d4d4d">Human herpesvirus 8</text>
<line x1="336" x2="342.15" y1="2248.02" y2="2248.02" stroke="#222222" stroke-width="3"/>
<text x="325.2" y="2255.72" text-anchor="end" font-size="21.7" fill="#4d4d4d">Human metapneumovirus</text>
<line x1="336" x2="342.15" y1="2275.44" y2="2275.44" stroke="#222222" stroke-width="3"/>
<text x="325.2" y="2283.14" text-anchor="end" font-size="21.7" fill="#4d4d4d">Human parainfluenza virus 3</text>
<line x1="336" x2="342.15" y1="2302.85" y2="2302.85" stroke="#222222" stroke-width="3"/>
<text x="325.2" y="2310.55" text-anchor="end" font-size="21.7" fill="#4d4d4d">Human parvovirus B19</text>
<line x1="336" x2="342.15" y1="2330.26" y2="2330.26" stroke="#222222" stroke-width="3"/>
<text x="320.6" y="2337.96" text-anchor="end" font-size="21.7" fill="#4d4d4d">Human respiratory syncytial virus</text>
<line x1="336" x2="342.15" y1="2357.67" y2="2357.67" stroke="#222222" stroke-width="3"/>
<text x="322.4" y="2365.37" text-anchor="end" font-size="21.7" fill="#4d4d4d">Influenza A virus</text>
<line x1="336" x2="342.15" y1="2385.08" y2="2385.08" stroke="#222222" stroke-width="3"/>
<text x="325.2" y="2392.78" text-anchor="end" font-size="21.7" fill="#4d4d4d">Influenza B virus</text>
<line x1="336" x2="342.15" y1="2412.5" y2="2412.5" stroke="#222222" stroke-width="3"/>
<text x="325.2" y="2420.2" text-anchor="end" font-size="21.7" fill="#4d4d4d">Influenza C virus</text>
<line x1="336" x2="342.15" y1="2439.91" y2="2439.91" stroke="#222222" stroke-width="3"/>
<text x="322" y="2447.61" text-anchor="end" font-size="21.7" fill="#4d4d4d">Macacine herpesvirus 1</text>
<line x1="336" x2="342.15" y1="2467.32" y2="2467.32" stroke="#222222" stroke-width="3"/>
<text x="325.2" y="2475.02" text-anchor="end" font-size="21.7" fill="#4d4d4d">Mamastrovirus 1</text>
<line x1="336" x2="342.15" y1="2494.73" y2="2494.73" stroke="#222222" stroke-width="3"/>
<text x="325.2" y="2502.43" text-anchor="end" font-size="21.7" fill="#4d4d4d">Norwalk virus</text>
<line x1="336" x2="342.15" y1="2522.14" y2="2522.14" stroke="#222222" stroke-width="3"/>
<text x="325.2" y="2529.84" text-anchor="end" font-size="21.7" fill="#4d4d4d">Orf virus</text>
<line x1="336" x2="342.15" y1="2549.56" y2="2549.56" stroke="#222222" stroke-width="3"/>
<text x="325.2" y="2557.26" text-anchor="end" font-size="21.7" fill="#4d4d4d">Rhinovirus A</text>
<line x1="336" x2="342.15" y1="2576.97" y2="2576.97" stroke="#222222" stroke-width="3"/>
<text x="325.2" y="2584.67" text-anchor="end" font-size="21.7" fill="#4d4d4d">Rhinovirus B</text>
<line x1="336" x2="342.15" y1="2604.38" y2="2604.38" stroke="#222222" stroke-width="3"/>
<text x="325.2" y="2612.08" text-anchor="end" font-size="21.7" fill="#4d4d4d">Rubella virus</text>
<line x1="422.2" x2="422.2" y1="2620.9" y2="2627.7" stroke="#222222" stroke-width="3"/>
<text x="427.2" y="2648.5" text-anchor="end" font-size="21.7" fill="#4d4d4d">100</text>
<line x1="812.5" x2="812.5" y1="2620.9" y2="2627.7" stroke="#222222" stroke-width="3"/>
<text x="817.2" y="2648.5" text-anchor="end" font-size="21.7" fill="#4d4d4d">50</text>
<line x1="1202.8" x2="1202.8" y1="2620.9" y2="2627.7" stroke="#222222" stroke-width="3"/>
<text x="1202.3" y="2648.5" text-anchor="middle" font-size="21.7" fill="#4d4d4d">0</text>
<line x1="1593.1" x2="1593.1" y1="2620.9" y2="2627.7" stroke="#222222" stroke-width="3"/>
<text x="1596.3" y="2648.5" text-anchor="end" font-size="21.7" fill="#4d4d4d">50</text>
<line x1="1983.4" x2="1983.4" y1="2620.9" y2="2627.7" stroke="#222222" stroke-width="3"/>
<text x="1989" y="2648.5" text-anchor="end" font-size="21.7" fill="#4d4d4d">100</text>
<text x="1201.6" y="2677.4" text-anchor="middle" font-size="28.8" fill="#000">% positive subjects</text>
<g transform="rotate(0.17 888 1464)"><line x1="618" x2="1182" y1="1464.2" y2="1464.2" stroke="#000" stroke-width="5"/><polygon points="594.6,1464.2 620.6,1449.4 620.6,1479" fill="#000"/></g>
<g transform="rotate(0.12 1513 1463.6)"><line x1="1218.8" x2="1784" y1="1463.6" y2="1463.6" stroke="#000" stroke-width="5"/><polygon points="1807.5,1463.6 1781.5,1448.8 1781.5,1478.4" fill="#000"/></g>
<text transform="translate(907.7,1441.7) rotate(0.63)" text-anchor="middle" font-size="28.8" fill="#000">Positivity in MI subjects</text>
<text transform="translate(1515.6,1441.7) rotate(0.6)" text-anchor="middle" font-size="28.8" fill="#000">Positivity in EIP subjects</text>
</g>
</svg>
</body>
</html>
